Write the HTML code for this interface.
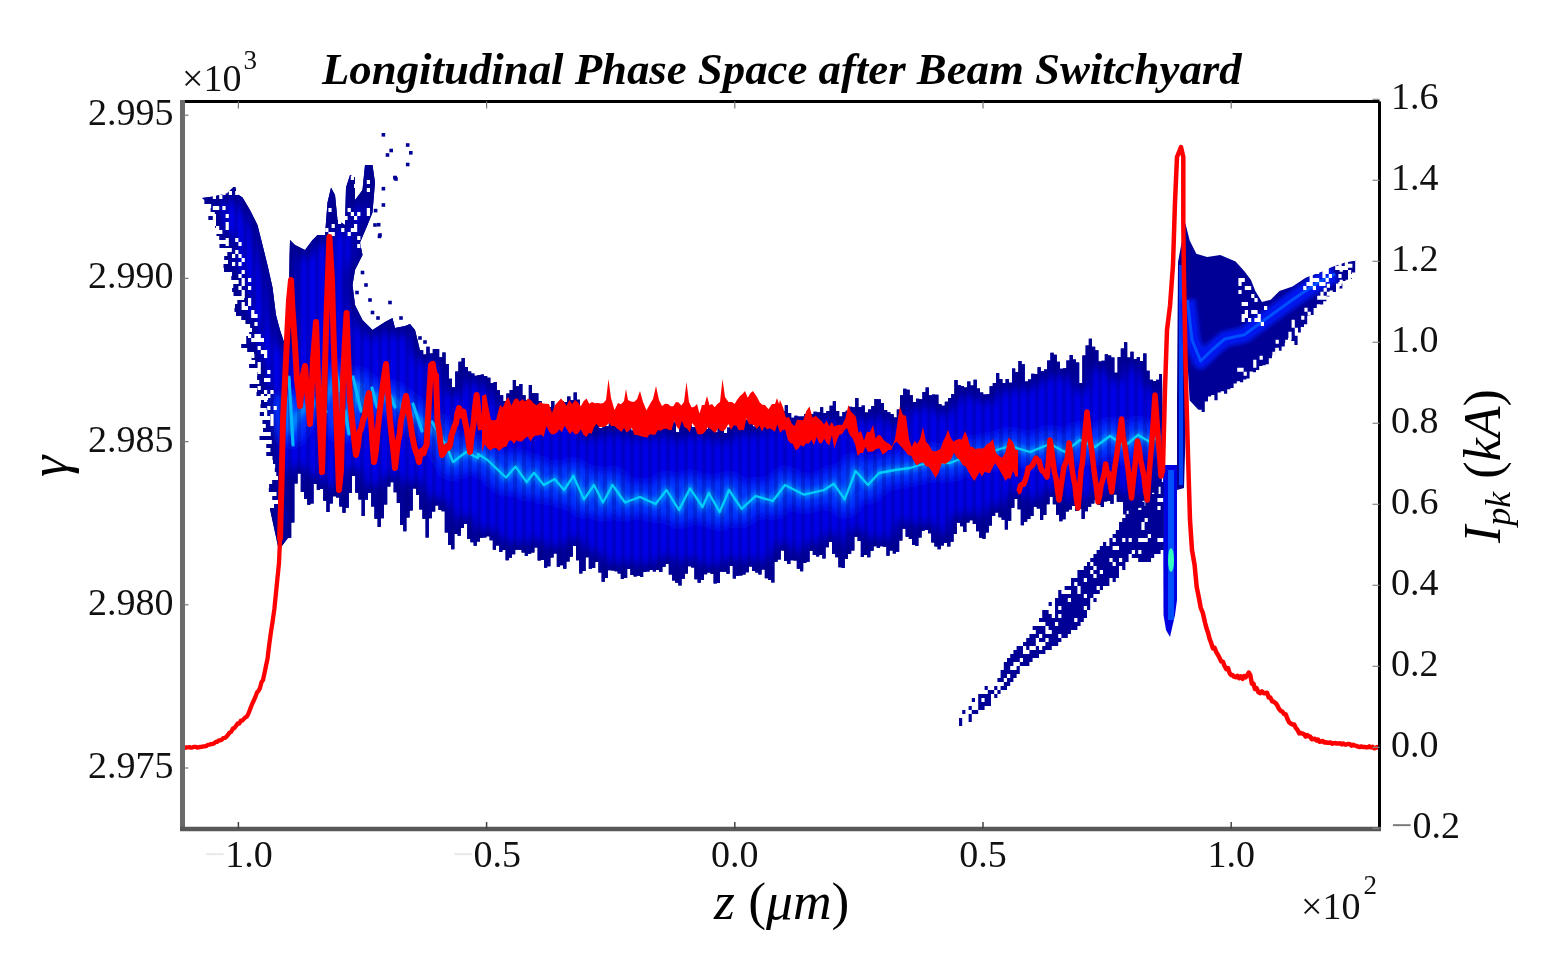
<!DOCTYPE html>
<html><head><meta charset="utf-8"><title>Longitudinal Phase Space after Beam Switchyard</title>
<style>html,body{margin:0;padding:0;background:#fff;width:1544px;height:960px;overflow:hidden}svg{display:block}</style>
</head><body>
<svg width="1544" height="960" viewBox="0 0 1544 960">
<rect width="1544" height="960" fill="#fff"/>
<defs><filter id="bl" filterUnits="userSpaceOnUse" x="0" y="0" width="1544" height="960"><feGaussianBlur stdDeviation="0.7"/></filter><filter id="bl3" filterUnits="userSpaceOnUse" x="0" y="0" width="1544" height="960"><feGaussianBlur stdDeviation="5"/></filter><filter id="bl2" filterUnits="userSpaceOnUse" x="0" y="0" width="1544" height="960"><feGaussianBlur stdDeviation="2"/></filter><pattern id="stp" patternUnits="userSpaceOnUse" width="9" height="20"><rect x="0" y="0" width="4" height="20" fill="#00007a" fill-opacity="0.28"/></pattern><clipPath id="cm"><polygon points="202.0,198.0 213.0,196.6 227.0,193.4 235.0,185.6 236.6,193.4 242.5,197.5 250.0,210.0 257.5,225.0 262.5,245.0 267.5,265.0 272.5,287.5 276.0,315.0 280.0,330.0 284.0,342.0 289.0,340.0 289.0,300.0 289.5,260.0 290.0,240.0 295.0,245.0 305.0,250.0 312.5,240.0 317.5,235.0 325.0,235.0 327.5,202.5 331.0,187.5 335.0,195.0 337.5,220.0 345.0,225.0 346.0,187.5 350.0,175.0 355.0,177.5 355.0,200.0 362.5,190.0 365.0,165.0 372.5,165.0 375.0,182.5 372.5,212.5 367.5,225.0 360.0,242.5 362.5,255.0 355.0,270.0 352.5,285.0 355.0,305.0 362.5,320.0 372.5,330.0 385.0,322.0 392.5,318.0 395.0,328.0 405.0,326.0 410.0,324.0 415.0,330.0 420.0,350.3 423.2,350.3 423.2,354.4 426.4,354.4 426.4,346.7 429.6,346.7 429.6,353.4 432.8,353.4 432.8,348.9 436.0,348.9 436.0,349.1 439.2,349.1 439.2,357.2 442.4,357.2 442.4,352.5 445.6,352.5 445.6,363.9 448.8,363.9 448.8,378.7 452.0,378.7 452.0,387.3 455.2,387.3 455.2,371.4 458.4,371.4 458.4,361.8 461.6,361.8 461.6,357.9 464.8,357.9 464.8,366.9 468.0,366.9 468.0,371.6 471.2,371.6 471.2,373.4 474.4,373.4 474.4,375.7 477.6,375.7 477.6,374.9 480.8,374.9 480.8,374.5 484.0,374.5 484.0,376.0 487.2,376.0 487.2,377.7 490.4,377.7 490.4,382.9 493.6,382.9 493.6,381.9 496.8,381.9 496.8,390.2 500.0,390.2 500.0,395.2 503.2,395.2 503.2,400.9 506.4,400.9 506.4,393.6 509.6,393.6 509.6,390.0 512.8,390.0 512.8,380.1 516.0,380.1 516.0,386.3 519.2,386.3 519.2,383.9 522.4,383.9 522.4,395.3 525.6,395.3 525.6,400.4 528.8,400.4 528.8,385.1 532.0,385.1 532.0,393.2 535.2,393.2 535.2,393.3 538.4,393.3 538.4,401.1 541.6,401.1 541.6,407.9 544.8,407.9 544.8,406.7 548.0,406.7 548.0,407.0 551.2,407.0 551.2,401.1 554.4,401.1 554.4,408.5 557.6,408.5 557.6,405.7 560.8,405.7 560.8,401.5 564.0,401.5 564.0,402.0 567.2,402.0 567.2,396.6 570.4,396.6 570.4,400.3 573.6,400.3 573.6,392.4 576.8,392.4 576.8,399.7 580.0,399.7 580.0,417.0 583.2,417.0 583.2,415.0 586.4,415.0 586.4,430.6 589.6,430.6 589.6,415.1 592.8,415.1 592.8,422.1 596.0,422.1 596.0,420.9 599.2,420.9 599.2,428.1 602.4,428.1 602.4,415.2 605.6,415.2 605.6,426.2 608.8,426.2 608.8,420.2 612.0,420.2 612.0,422.6 615.2,422.6 615.2,421.1 618.4,421.1 618.4,426.0 621.6,426.0 621.6,420.0 624.8,420.0 624.8,423.7 628.0,423.7 628.0,425.2 631.2,425.2 631.2,430.4 634.4,430.4 634.4,415.6 637.6,415.6 637.6,429.3 640.8,429.3 640.8,427.3 644.0,427.3 644.0,422.3 647.2,422.3 647.2,425.1 650.4,425.1 650.4,422.4 653.6,422.4 653.6,429.8 656.8,429.8 656.8,424.9 660.0,424.9 660.0,423.5 663.2,423.5 663.2,423.6 666.4,423.6 666.4,423.9 669.6,423.9 669.6,424.1 672.8,424.1 672.8,421.8 676.0,421.8 676.0,432.2 679.2,432.2 679.2,418.5 682.4,418.5 682.4,412.7 685.6,412.7 685.6,425.0 688.8,425.0 688.8,425.1 692.0,425.1 692.0,427.0 695.2,427.0 695.2,425.1 698.4,425.1 698.4,425.5 701.6,425.5 701.6,427.0 704.8,427.0 704.8,429.1 708.0,429.1 708.0,424.0 711.2,424.0 711.2,424.2 714.4,424.2 714.4,432.2 717.6,432.2 717.6,427.1 720.8,427.1 720.8,421.7 724.0,421.7 724.0,433.1 727.2,433.1 727.2,427.6 730.4,427.6 730.4,422.7 733.6,422.7 733.6,420.5 736.8,420.5 736.8,425.5 740.0,425.5 740.0,421.4 743.2,421.4 743.2,420.5 746.4,420.5 746.4,419.5 749.6,419.5 749.6,421.9 752.8,421.9 752.8,426.6 756.0,426.6 756.0,420.2 759.2,420.2 759.2,415.7 762.4,415.7 762.4,422.1 765.6,422.1 765.6,419.1 768.8,419.1 768.8,420.7 772.0,420.7 772.0,420.3 775.2,420.3 775.2,413.8 778.4,413.8 778.4,412.2 781.6,412.2 781.6,410.9 784.8,410.9 784.8,405.3 788.0,405.3 788.0,413.1 791.2,413.1 791.2,417.8 794.4,417.8 794.4,415.8 797.6,415.8 797.6,416.6 800.8,416.6 800.8,416.6 804.0,416.6 804.0,414.0 807.2,414.0 807.2,413.2 810.4,413.2 810.4,413.9 813.6,413.9 813.6,411.7 816.8,411.7 816.8,412.3 820.0,412.3 820.0,407.3 823.2,407.3 823.2,413.1 826.4,413.1 826.4,411.0 829.6,411.0 829.6,405.8 832.8,405.8 832.8,401.3 836.0,401.3 836.0,411.0 839.2,411.0 839.2,416.6 842.4,416.6 842.4,411.9 845.6,411.9 845.6,410.7 848.8,410.7 848.8,406.7 852.0,406.7 852.0,407.3 855.2,407.3 855.2,398.0 858.4,398.0 858.4,407.1 861.6,407.1 861.6,405.4 864.8,405.4 864.8,412.4 868.0,412.4 868.0,409.4 871.2,409.4 871.2,406.0 874.4,406.0 874.4,399.0 877.6,399.0 877.6,399.2 880.8,399.2 880.8,402.9 884.0,402.9 884.0,409.9 887.2,409.9 887.2,412.2 890.4,412.2 890.4,414.1 893.6,414.1 893.6,417.6 896.8,417.6 896.8,409.4 900.0,409.4 900.0,395.2 903.2,395.2 903.2,388.8 906.4,388.8 906.4,389.8 909.6,389.8 909.6,395.3 912.8,395.3 912.8,402.0 916.0,402.0 916.0,398.7 919.2,398.7 919.2,399.2 922.4,399.2 922.4,392.1 925.6,392.1 925.6,387.4 928.8,387.4 928.8,395.2 932.0,395.2 932.0,394.6 935.2,394.6 935.2,394.8 938.4,394.8 938.4,404.3 941.6,404.3 941.6,405.8 944.8,405.8 944.8,401.8 948.0,401.8 948.0,398.1 951.2,398.1 951.2,394.0 954.4,394.0 954.4,380.0 957.6,380.0 957.6,385.0 960.8,385.0 960.8,386.1 964.0,386.1 964.0,387.4 967.2,387.4 967.2,381.5 970.4,381.5 970.4,385.4 973.6,385.4 973.6,379.7 976.8,379.7 976.8,388.5 980.0,388.5 980.0,392.5 983.2,392.5 983.2,394.6 986.4,394.6 986.4,394.3 989.6,394.3 989.6,386.2 992.8,386.2 992.8,383.1 996.0,383.1 996.0,373.0 999.2,373.0 999.2,379.0 1002.4,379.0 1002.4,383.0 1005.6,383.0 1005.6,379.0 1008.8,379.0 1008.8,382.8 1012.0,382.8 1012.0,368.6 1015.2,368.6 1015.2,372.1 1018.4,372.1 1018.4,360.9 1021.6,360.9 1021.6,364.3 1024.8,364.3 1024.8,381.4 1028.0,381.4 1028.0,379.4 1031.2,379.4 1031.2,373.8 1034.4,373.8 1034.4,374.1 1037.6,374.1 1037.6,367.2 1040.8,367.2 1040.8,371.2 1044.0,371.2 1044.0,369.4 1047.2,369.4 1047.2,360.6 1050.4,360.6 1050.4,352.8 1053.6,352.8 1053.6,354.8 1056.8,354.8 1056.8,361.7 1060.0,361.7 1060.0,368.8 1063.2,368.8 1063.2,368.3 1066.4,368.3 1066.4,360.4 1069.6,360.4 1069.6,355.0 1072.8,355.0 1072.8,359.4 1076.0,359.4 1076.0,362.6 1079.2,362.6 1079.2,382.9 1082.4,382.9 1082.4,355.4 1085.6,355.4 1085.6,345.6 1088.8,345.6 1088.8,338.7 1092.0,338.7 1092.0,346.8 1095.2,346.8 1095.2,350.3 1098.4,350.3 1098.4,361.4 1101.6,361.4 1101.6,360.8 1104.8,360.8 1104.8,354.2 1108.0,354.2 1108.0,355.4 1111.2,355.4 1111.2,357.6 1114.4,357.6 1114.4,372.8 1117.6,372.8 1117.6,357.1 1120.8,357.1 1120.8,348.6 1124.0,348.6 1124.0,342.2 1127.2,342.2 1127.2,357.6 1130.4,357.6 1130.4,351.7 1133.6,351.7 1133.6,359.1 1136.8,359.1 1136.8,357.3 1140.0,357.3 1140.0,361.1 1143.2,361.1 1143.2,353.4 1146.4,353.4 1146.4,370.7 1149.6,370.7 1149.6,379.7 1152.8,379.7 1152.8,380.9 1156.0,380.9 1156.0,379.8 1159.2,379.8 1159.2,374.1 1162.0,374.1 1163.0,470.0 1162.0,474.7 1161.6,474.7 1161.6,486.5 1158.4,486.5 1158.4,493.7 1155.2,493.7 1155.2,492.5 1152.0,492.5 1152.0,506.2 1148.8,506.2 1148.8,506.4 1145.6,506.4 1145.6,500.4 1142.4,500.4 1142.4,507.5 1139.2,507.5 1139.2,508.0 1136.0,508.0 1136.0,508.9 1132.8,508.9 1132.8,509.8 1129.6,509.8 1129.6,510.6 1126.4,510.6 1126.4,514.2 1123.2,514.2 1123.2,501.9 1120.0,501.9 1120.0,501.7 1116.8,501.7 1116.8,494.6 1113.6,494.6 1113.6,503.8 1110.4,503.8 1110.4,500.9 1107.2,500.9 1107.2,501.5 1104.0,501.5 1104.0,507.1 1100.8,507.1 1100.8,505.0 1097.6,505.0 1097.6,500.1 1094.4,500.1 1094.4,503.4 1091.2,503.4 1091.2,506.7 1088.0,506.7 1088.0,511.2 1084.8,511.2 1084.8,519.0 1081.6,519.0 1081.6,508.7 1078.4,508.7 1078.4,511.0 1075.2,511.0 1075.2,506.0 1072.0,506.0 1072.0,509.6 1068.8,509.6 1068.8,511.5 1065.6,511.5 1065.6,519.3 1062.4,519.3 1062.4,521.3 1059.2,521.3 1059.2,514.8 1056.0,514.8 1056.0,504.2 1052.8,504.2 1052.8,496.8 1049.6,496.8 1049.6,504.2 1046.4,504.2 1046.4,515.1 1043.2,515.1 1043.2,519.9 1040.0,519.9 1040.0,508.6 1036.8,508.6 1036.8,506.8 1033.6,506.8 1033.6,516.1 1030.4,516.1 1030.4,519.0 1027.2,519.0 1027.2,521.7 1024.0,521.7 1024.0,525.3 1020.8,525.3 1020.8,509.3 1017.6,509.3 1017.6,499.0 1014.4,499.0 1014.4,507.7 1011.2,507.7 1011.2,520.8 1008.0,520.8 1008.0,529.6 1004.8,529.6 1004.8,519.7 1001.6,519.7 1001.6,517.2 998.4,517.2 998.4,512.6 995.2,512.6 995.2,516.0 992.0,516.0 992.0,525.6 988.8,525.6 988.8,532.6 985.6,532.6 985.6,538.7 982.4,538.7 982.4,537.8 979.2,537.8 979.2,531.2 976.0,531.2 976.0,524.1 972.8,524.1 972.8,520.2 969.6,520.2 969.6,522.6 966.4,522.6 966.4,532.0 963.2,532.0 963.2,526.3 960.0,526.3 960.0,522.7 956.8,522.7 956.8,534.1 953.6,534.1 953.6,541.8 950.4,541.8 950.4,546.6 947.2,546.6 947.2,543.0 944.0,543.0 944.0,545.6 940.8,545.6 940.8,549.2 937.6,549.2 937.6,546.6 934.4,546.6 934.4,542.6 931.2,542.6 931.2,533.2 928.0,533.2 928.0,530.0 924.8,530.0 924.8,530.7 921.6,530.7 921.6,537.4 918.4,537.4 918.4,545.9 915.2,545.9 915.2,544.9 912.0,544.9 912.0,539.0 908.8,539.0 908.8,536.7 905.6,536.7 905.6,528.8 902.4,528.8 902.4,540.5 899.2,540.5 899.2,551.8 896.0,551.8 896.0,553.5 892.8,553.5 892.8,550.4 889.6,550.4 889.6,555.8 886.4,555.8 886.4,546.8 883.2,546.8 883.2,546.2 880.0,546.2 880.0,548.1 876.8,548.1 876.8,546.2 873.6,546.2 873.6,550.8 870.4,550.8 870.4,557.2 867.2,557.2 867.2,555.1 864.0,555.1 864.0,556.9 860.8,556.9 860.8,541.0 857.6,541.0 857.6,536.8 854.4,536.8 854.4,550.5 851.2,550.5 851.2,553.9 848.0,553.9 848.0,559.1 844.8,559.1 844.8,568.0 841.6,568.0 841.6,567.3 838.4,567.3 838.4,557.3 835.2,557.3 835.2,554.0 832.0,554.0 832.0,541.9 828.8,541.9 828.8,547.3 825.6,547.3 825.6,558.4 822.4,558.4 822.4,555.0 819.2,555.0 819.2,556.5 816.0,556.5 816.0,555.1 812.8,555.1 812.8,550.7 809.6,550.7 809.6,561.8 806.4,561.8 806.4,563.1 803.2,563.1 803.2,571.3 800.0,571.3 800.0,568.8 796.8,568.8 796.8,560.6 793.6,560.6 793.6,560.2 790.4,560.2 790.4,564.0 787.2,564.0 787.2,560.9 784.0,560.9 784.0,550.5 780.8,550.5 780.8,559.5 777.6,559.5 777.6,561.8 774.4,561.8 774.4,582.5 771.2,582.5 771.2,580.1 768.0,580.1 768.0,578.3 764.8,578.3 764.8,569.6 761.6,569.6 761.6,574.6 758.4,574.6 758.4,572.6 755.2,572.6 755.2,570.9 752.0,570.9 752.0,566.5 748.8,566.5 748.8,572.3 745.6,572.3 745.6,574.4 742.4,574.4 742.4,575.6 739.2,575.6 739.2,575.8 736.0,575.8 736.0,578.5 732.8,578.5 732.8,565.9 729.6,565.9 729.6,573.8 726.4,573.8 726.4,571.8 723.2,571.8 723.2,571.7 720.0,571.7 720.0,583.1 716.8,583.1 716.8,583.6 713.6,583.6 713.6,573.7 710.4,573.7 710.4,572.5 707.2,572.5 707.2,574.2 704.0,574.2 704.0,580.0 700.8,580.0 700.8,582.8 697.6,582.8 697.6,579.2 694.4,579.2 694.4,567.5 691.2,567.5 691.2,566.2 688.0,566.2 688.0,573.6 684.8,573.6 684.8,578.7 681.6,578.7 681.6,585.6 678.4,585.6 678.4,582.7 675.2,582.7 675.2,580.6 672.0,580.6 672.0,574.5 668.8,574.5 668.8,564.1 665.6,564.1 665.6,566.8 662.4,566.8 662.4,571.9 659.2,571.9 659.2,569.9 656.0,569.9 656.0,571.5 652.8,571.5 652.8,569.9 649.6,569.9 649.6,571.4 646.4,571.4 646.4,571.9 643.2,571.9 643.2,577.0 640.0,577.0 640.0,575.7 636.8,575.7 636.8,576.4 633.6,576.4 633.6,574.9 630.4,574.9 630.4,569.1 627.2,569.1 627.2,578.0 624.0,578.0 624.0,578.9 620.8,578.9 620.8,573.5 617.6,573.5 617.6,571.3 614.4,571.3 614.4,570.4 611.2,570.4 611.2,570.2 608.0,570.2 608.0,578.1 604.8,578.1 604.8,581.8 601.6,581.8 601.6,572.4 598.4,572.4 598.4,561.9 595.2,561.9 595.2,568.1 592.0,568.1 592.0,568.8 588.8,568.8 588.8,557.3 585.6,557.3 585.6,570.9 582.4,570.9 582.4,573.5 579.2,573.5 579.2,560.3 576.0,560.3 576.0,546.0 572.8,546.0 572.8,556.7 569.6,556.7 569.6,561.5 566.4,561.5 566.4,568.8 563.2,568.8 563.2,565.3 560.0,565.3 560.0,566.7 556.8,566.7 556.8,553.4 553.6,553.4 553.6,557.4 550.4,557.4 550.4,566.3 547.2,566.3 547.2,567.7 544.0,567.7 544.0,559.9 540.8,559.9 540.8,560.6 537.6,560.6 537.6,547.5 534.4,547.5 534.4,552.5 531.2,552.5 531.2,553.7 528.0,553.7 528.0,556.1 524.8,556.1 524.8,552.4 521.6,552.4 521.6,549.7 518.4,549.7 518.4,549.7 515.2,549.7 515.2,554.2 512.0,554.2 512.0,557.7 508.8,557.7 508.8,560.3 505.6,560.3 505.6,550.1 502.4,550.1 502.4,552.1 499.2,552.1 499.2,545.5 496.0,545.5 496.0,549.8 492.8,549.8 492.8,540.2 489.6,540.2 489.6,536.3 486.4,536.3 486.4,537.4 483.2,537.4 483.2,537.8 480.0,537.8 480.0,541.4 476.8,541.4 476.8,545.8 473.6,545.8 473.6,542.2 470.4,542.2 470.4,539.1 467.2,539.1 467.2,524.1 464.0,524.1 464.0,527.9 460.8,527.9 460.8,535.7 457.6,535.7 457.6,534.1 454.4,534.1 454.4,549.2 451.2,549.2 451.2,545.1 448.0,545.1 448.0,532.6 444.8,532.6 444.8,511.2 441.6,511.2 441.6,509.9 438.4,509.9 438.4,505.5 435.2,505.5 435.2,511.4 432.0,511.4 432.0,518.3 428.8,518.3 428.8,537.5 425.6,537.5 425.6,518.7 422.4,518.7 422.4,509.6 419.2,509.6 419.2,495.1 416.0,495.1 416.0,488.4 412.8,488.4 412.8,510.5 409.6,510.5 409.6,517.6 406.4,517.6 406.4,531.3 403.2,531.3 403.2,524.9 400.0,524.9 400.0,502.9 396.8,502.9 396.8,492.3 393.6,492.3 393.6,482.2 390.4,482.2 390.4,486.4 387.2,486.4 387.2,504.4 384.0,504.4 384.0,518.2 380.8,518.2 380.8,527.0 377.6,527.0 377.6,518.8 374.4,518.8 374.4,506.4 371.2,506.4 371.2,492.9 368.0,492.9 368.0,499.8 364.8,499.8 364.8,516.0 361.6,516.0 361.6,499.4 358.4,499.4 358.4,492.8 355.2,492.8 355.2,476.0 352.0,476.0 352.0,493.1 348.8,493.1 348.8,507.8 345.6,507.8 345.6,512.7 342.4,512.7 342.4,506.6 339.2,506.6 339.2,497.5 336.0,497.5 336.0,496.3 332.8,496.3 332.8,503.4 329.6,503.4 329.6,511.9 326.4,511.9 326.4,500.8 323.2,500.8 323.2,488.9 320.0,488.9 320.0,490.1 316.8,490.1 316.8,484.1 313.6,484.1 313.6,503.5 310.4,503.5 310.4,504.8 307.2,504.8 307.2,499.0 304.0,499.0 304.0,492.1 300.8,492.1 300.8,473.6 297.6,473.6 297.6,483.6 294.4,483.6 294.4,522.6 291.2,522.6 291.2,537.9 288.0,537.9 278.8,550.0 270.0,509.0 270.0,508.0 274.2,508.0 274.2,504.0 278.2,504.0 278.2,500.0 272.5,500.0 272.5,496.0 276.7,496.0 276.7,492.0 268.9,492.0 268.9,488.0 269.3,488.0 269.3,484.0 272.4,484.0 272.4,480.0 278.0,480.0 278.0,476.0 276.5,476.0 276.5,472.0 274.9,472.0 274.9,468.0 275.4,468.0 275.4,464.0 273.1,464.0 273.1,460.0 272.7,460.0 272.7,456.0 266.5,456.0 266.5,452.0 270.7,452.0 270.7,448.0 266.5,448.0 266.5,444.0 271.9,444.0 271.9,440.0 259.7,440.0 259.7,436.0 270.9,436.0 270.9,432.0 263.2,432.0 263.2,428.0 265.9,428.0 265.9,424.0 262.7,424.0 262.7,420.0 270.5,420.0 270.5,416.0 259.9,416.0 259.9,412.0 266.8,412.0 266.8,408.0 260.7,408.0 260.7,404.0 261.2,404.0 261.2,400.0 268.3,400.0 268.3,396.0 256.7,396.0 256.7,392.0 257.3,392.0 257.3,388.0 249.8,388.0 249.8,384.0 259.5,384.0 259.5,380.0 257.3,380.0 257.3,376.0 257.5,376.0 257.5,372.0 259.1,372.0 259.1,368.0 249.3,368.0 249.3,364.0 255.4,364.0 255.4,360.0 251.7,360.0 251.7,356.0 254.0,356.0 254.0,352.0 247.4,352.0 247.4,348.0 241.4,348.0 241.4,344.0 246.5,344.0 246.5,340.0 246.5,340.0 246.5,336.0 249.4,336.0 249.4,332.0 252.1,332.0 252.1,328.0 250.3,328.0 250.3,324.0 245.7,324.0 245.7,320.0 241.5,320.0 241.5,316.0 236.0,316.0 236.0,312.0 234.7,312.0 234.7,308.0 235.1,308.0 235.1,304.0 237.6,304.0 237.6,300.0 244.4,300.0 244.4,296.0 233.7,296.0 233.7,292.0 232.3,292.0 232.3,288.0 233.5,288.0 233.5,284.0 238.8,284.0 238.8,280.0 231.5,280.0 231.5,276.0 232.1,276.0 232.1,272.0 224.1,272.0 224.1,268.0 223.7,268.0 223.7,264.0 228.2,264.0 228.2,260.0 224.4,260.0 224.4,256.0 227.6,256.0 227.6,252.0 231.9,252.0 231.9,248.0 219.7,248.0 219.7,244.0 227.3,244.0 227.3,240.0 219.5,240.0 219.5,236.0 216.7,236.0 216.7,232.0 217.7,232.0 217.7,228.0 215.3,228.0 215.3,224.0 213.2,224.0 213.2,220.0 208.6,220.0 208.6,216.0 214.9,216.0 214.9,212.0 210.8,212.0 210.8,208.0 211.4,208.0 211.4,204.0 204.6,204.0 204.6,200.0"/></clipPath><clipPath id="cw"><polygon points="1177.0,470.0 1177.0,400.0 1178.0,262.0 1185.3,223.0 1189.7,240.6 1196.3,253.8 1207.2,257.0 1220.3,254.9 1235.6,261.4 1244.4,271.3 1251.0,280.0 1255.3,291.0 1262.0,302.0 1270.7,299.7 1279.4,291.0 1292.5,286.6 1305.7,277.8 1323.2,271.3 1332.0,267.0 1345.0,262.5 1356.0,260.6 1355.2,260.6 1355.2,272.4 1352.0,272.4 1352.0,279.1 1348.8,279.1 1348.8,279.7 1345.6,279.7 1345.6,281.1 1342.4,281.1 1342.4,288.4 1339.2,288.4 1339.2,283.8 1336.0,283.8 1336.0,292.0 1332.8,292.0 1332.8,290.6 1329.6,290.6 1329.6,296.6 1326.4,296.6 1326.4,301.2 1323.2,301.2 1323.2,304.4 1320.0,304.4 1320.0,304.2 1316.8,304.2 1316.8,308.0 1313.6,308.0 1313.6,314.9 1310.4,314.9 1310.4,316.1 1307.2,316.1 1307.2,324.3 1304.0,324.3 1304.0,327.0 1300.8,327.0 1300.8,332.4 1297.6,332.4 1297.6,344.9 1294.4,344.9 1294.4,340.9 1291.2,340.9 1291.2,338.1 1288.0,338.1 1288.0,342.9 1284.8,342.9 1284.8,346.4 1281.6,346.4 1281.6,350.8 1278.4,350.8 1278.4,348.3 1275.2,348.3 1275.2,355.2 1272.0,355.2 1272.0,358.3 1268.8,358.3 1268.8,364.3 1265.6,364.3 1265.6,365.2 1262.4,365.2 1262.4,365.9 1259.2,365.9 1259.2,370.1 1256.0,370.1 1256.0,372.2 1252.8,372.2 1252.8,371.5 1249.6,371.5 1249.6,378.6 1246.4,378.6 1246.4,379.6 1243.2,379.6 1243.2,382.3 1240.0,382.3 1240.0,381.3 1236.8,381.3 1236.8,383.5 1233.6,383.5 1233.6,388.0 1230.4,388.0 1230.4,389.3 1227.2,389.3 1227.2,393.8 1224.0,393.8 1224.0,391.3 1220.8,391.3 1220.8,392.4 1217.6,392.4 1217.6,400.2 1214.4,400.2 1214.4,395.1 1211.2,395.1 1211.2,396.5 1208.0,396.5 1208.0,401.5 1204.8,401.5 1204.8,411.9 1201.6,411.9 1201.6,409.7 1198.4,409.7 1189.7,400.4 1187.5,363.0 1186.0,420.0 1184.0,488.0 1177.0,490.0"/></clipPath></defs>
<g filter="url(#bl)">
<polygon points="202.0,198.0 213.0,196.6 227.0,193.4 235.0,185.6 236.6,193.4 242.5,197.5 250.0,210.0 257.5,225.0 262.5,245.0 267.5,265.0 272.5,287.5 276.0,315.0 280.0,330.0 284.0,342.0 289.0,340.0 289.0,300.0 289.5,260.0 290.0,240.0 295.0,245.0 305.0,250.0 312.5,240.0 317.5,235.0 325.0,235.0 327.5,202.5 331.0,187.5 335.0,195.0 337.5,220.0 345.0,225.0 346.0,187.5 350.0,175.0 355.0,177.5 355.0,200.0 362.5,190.0 365.0,165.0 372.5,165.0 375.0,182.5 372.5,212.5 367.5,225.0 360.0,242.5 362.5,255.0 355.0,270.0 352.5,285.0 355.0,305.0 362.5,320.0 372.5,330.0 385.0,322.0 392.5,318.0 395.0,328.0 405.0,326.0 410.0,324.0 415.0,330.0 420.0,350.3 423.2,350.3 423.2,354.4 426.4,354.4 426.4,346.7 429.6,346.7 429.6,353.4 432.8,353.4 432.8,348.9 436.0,348.9 436.0,349.1 439.2,349.1 439.2,357.2 442.4,357.2 442.4,352.5 445.6,352.5 445.6,363.9 448.8,363.9 448.8,378.7 452.0,378.7 452.0,387.3 455.2,387.3 455.2,371.4 458.4,371.4 458.4,361.8 461.6,361.8 461.6,357.9 464.8,357.9 464.8,366.9 468.0,366.9 468.0,371.6 471.2,371.6 471.2,373.4 474.4,373.4 474.4,375.7 477.6,375.7 477.6,374.9 480.8,374.9 480.8,374.5 484.0,374.5 484.0,376.0 487.2,376.0 487.2,377.7 490.4,377.7 490.4,382.9 493.6,382.9 493.6,381.9 496.8,381.9 496.8,390.2 500.0,390.2 500.0,395.2 503.2,395.2 503.2,400.9 506.4,400.9 506.4,393.6 509.6,393.6 509.6,390.0 512.8,390.0 512.8,380.1 516.0,380.1 516.0,386.3 519.2,386.3 519.2,383.9 522.4,383.9 522.4,395.3 525.6,395.3 525.6,400.4 528.8,400.4 528.8,385.1 532.0,385.1 532.0,393.2 535.2,393.2 535.2,393.3 538.4,393.3 538.4,401.1 541.6,401.1 541.6,407.9 544.8,407.9 544.8,406.7 548.0,406.7 548.0,407.0 551.2,407.0 551.2,401.1 554.4,401.1 554.4,408.5 557.6,408.5 557.6,405.7 560.8,405.7 560.8,401.5 564.0,401.5 564.0,402.0 567.2,402.0 567.2,396.6 570.4,396.6 570.4,400.3 573.6,400.3 573.6,392.4 576.8,392.4 576.8,399.7 580.0,399.7 580.0,417.0 583.2,417.0 583.2,415.0 586.4,415.0 586.4,430.6 589.6,430.6 589.6,415.1 592.8,415.1 592.8,422.1 596.0,422.1 596.0,420.9 599.2,420.9 599.2,428.1 602.4,428.1 602.4,415.2 605.6,415.2 605.6,426.2 608.8,426.2 608.8,420.2 612.0,420.2 612.0,422.6 615.2,422.6 615.2,421.1 618.4,421.1 618.4,426.0 621.6,426.0 621.6,420.0 624.8,420.0 624.8,423.7 628.0,423.7 628.0,425.2 631.2,425.2 631.2,430.4 634.4,430.4 634.4,415.6 637.6,415.6 637.6,429.3 640.8,429.3 640.8,427.3 644.0,427.3 644.0,422.3 647.2,422.3 647.2,425.1 650.4,425.1 650.4,422.4 653.6,422.4 653.6,429.8 656.8,429.8 656.8,424.9 660.0,424.9 660.0,423.5 663.2,423.5 663.2,423.6 666.4,423.6 666.4,423.9 669.6,423.9 669.6,424.1 672.8,424.1 672.8,421.8 676.0,421.8 676.0,432.2 679.2,432.2 679.2,418.5 682.4,418.5 682.4,412.7 685.6,412.7 685.6,425.0 688.8,425.0 688.8,425.1 692.0,425.1 692.0,427.0 695.2,427.0 695.2,425.1 698.4,425.1 698.4,425.5 701.6,425.5 701.6,427.0 704.8,427.0 704.8,429.1 708.0,429.1 708.0,424.0 711.2,424.0 711.2,424.2 714.4,424.2 714.4,432.2 717.6,432.2 717.6,427.1 720.8,427.1 720.8,421.7 724.0,421.7 724.0,433.1 727.2,433.1 727.2,427.6 730.4,427.6 730.4,422.7 733.6,422.7 733.6,420.5 736.8,420.5 736.8,425.5 740.0,425.5 740.0,421.4 743.2,421.4 743.2,420.5 746.4,420.5 746.4,419.5 749.6,419.5 749.6,421.9 752.8,421.9 752.8,426.6 756.0,426.6 756.0,420.2 759.2,420.2 759.2,415.7 762.4,415.7 762.4,422.1 765.6,422.1 765.6,419.1 768.8,419.1 768.8,420.7 772.0,420.7 772.0,420.3 775.2,420.3 775.2,413.8 778.4,413.8 778.4,412.2 781.6,412.2 781.6,410.9 784.8,410.9 784.8,405.3 788.0,405.3 788.0,413.1 791.2,413.1 791.2,417.8 794.4,417.8 794.4,415.8 797.6,415.8 797.6,416.6 800.8,416.6 800.8,416.6 804.0,416.6 804.0,414.0 807.2,414.0 807.2,413.2 810.4,413.2 810.4,413.9 813.6,413.9 813.6,411.7 816.8,411.7 816.8,412.3 820.0,412.3 820.0,407.3 823.2,407.3 823.2,413.1 826.4,413.1 826.4,411.0 829.6,411.0 829.6,405.8 832.8,405.8 832.8,401.3 836.0,401.3 836.0,411.0 839.2,411.0 839.2,416.6 842.4,416.6 842.4,411.9 845.6,411.9 845.6,410.7 848.8,410.7 848.8,406.7 852.0,406.7 852.0,407.3 855.2,407.3 855.2,398.0 858.4,398.0 858.4,407.1 861.6,407.1 861.6,405.4 864.8,405.4 864.8,412.4 868.0,412.4 868.0,409.4 871.2,409.4 871.2,406.0 874.4,406.0 874.4,399.0 877.6,399.0 877.6,399.2 880.8,399.2 880.8,402.9 884.0,402.9 884.0,409.9 887.2,409.9 887.2,412.2 890.4,412.2 890.4,414.1 893.6,414.1 893.6,417.6 896.8,417.6 896.8,409.4 900.0,409.4 900.0,395.2 903.2,395.2 903.2,388.8 906.4,388.8 906.4,389.8 909.6,389.8 909.6,395.3 912.8,395.3 912.8,402.0 916.0,402.0 916.0,398.7 919.2,398.7 919.2,399.2 922.4,399.2 922.4,392.1 925.6,392.1 925.6,387.4 928.8,387.4 928.8,395.2 932.0,395.2 932.0,394.6 935.2,394.6 935.2,394.8 938.4,394.8 938.4,404.3 941.6,404.3 941.6,405.8 944.8,405.8 944.8,401.8 948.0,401.8 948.0,398.1 951.2,398.1 951.2,394.0 954.4,394.0 954.4,380.0 957.6,380.0 957.6,385.0 960.8,385.0 960.8,386.1 964.0,386.1 964.0,387.4 967.2,387.4 967.2,381.5 970.4,381.5 970.4,385.4 973.6,385.4 973.6,379.7 976.8,379.7 976.8,388.5 980.0,388.5 980.0,392.5 983.2,392.5 983.2,394.6 986.4,394.6 986.4,394.3 989.6,394.3 989.6,386.2 992.8,386.2 992.8,383.1 996.0,383.1 996.0,373.0 999.2,373.0 999.2,379.0 1002.4,379.0 1002.4,383.0 1005.6,383.0 1005.6,379.0 1008.8,379.0 1008.8,382.8 1012.0,382.8 1012.0,368.6 1015.2,368.6 1015.2,372.1 1018.4,372.1 1018.4,360.9 1021.6,360.9 1021.6,364.3 1024.8,364.3 1024.8,381.4 1028.0,381.4 1028.0,379.4 1031.2,379.4 1031.2,373.8 1034.4,373.8 1034.4,374.1 1037.6,374.1 1037.6,367.2 1040.8,367.2 1040.8,371.2 1044.0,371.2 1044.0,369.4 1047.2,369.4 1047.2,360.6 1050.4,360.6 1050.4,352.8 1053.6,352.8 1053.6,354.8 1056.8,354.8 1056.8,361.7 1060.0,361.7 1060.0,368.8 1063.2,368.8 1063.2,368.3 1066.4,368.3 1066.4,360.4 1069.6,360.4 1069.6,355.0 1072.8,355.0 1072.8,359.4 1076.0,359.4 1076.0,362.6 1079.2,362.6 1079.2,382.9 1082.4,382.9 1082.4,355.4 1085.6,355.4 1085.6,345.6 1088.8,345.6 1088.8,338.7 1092.0,338.7 1092.0,346.8 1095.2,346.8 1095.2,350.3 1098.4,350.3 1098.4,361.4 1101.6,361.4 1101.6,360.8 1104.8,360.8 1104.8,354.2 1108.0,354.2 1108.0,355.4 1111.2,355.4 1111.2,357.6 1114.4,357.6 1114.4,372.8 1117.6,372.8 1117.6,357.1 1120.8,357.1 1120.8,348.6 1124.0,348.6 1124.0,342.2 1127.2,342.2 1127.2,357.6 1130.4,357.6 1130.4,351.7 1133.6,351.7 1133.6,359.1 1136.8,359.1 1136.8,357.3 1140.0,357.3 1140.0,361.1 1143.2,361.1 1143.2,353.4 1146.4,353.4 1146.4,370.7 1149.6,370.7 1149.6,379.7 1152.8,379.7 1152.8,380.9 1156.0,380.9 1156.0,379.8 1159.2,379.8 1159.2,374.1 1162.0,374.1 1163.0,470.0 1162.0,474.7 1161.6,474.7 1161.6,486.5 1158.4,486.5 1158.4,493.7 1155.2,493.7 1155.2,492.5 1152.0,492.5 1152.0,506.2 1148.8,506.2 1148.8,506.4 1145.6,506.4 1145.6,500.4 1142.4,500.4 1142.4,507.5 1139.2,507.5 1139.2,508.0 1136.0,508.0 1136.0,508.9 1132.8,508.9 1132.8,509.8 1129.6,509.8 1129.6,510.6 1126.4,510.6 1126.4,514.2 1123.2,514.2 1123.2,501.9 1120.0,501.9 1120.0,501.7 1116.8,501.7 1116.8,494.6 1113.6,494.6 1113.6,503.8 1110.4,503.8 1110.4,500.9 1107.2,500.9 1107.2,501.5 1104.0,501.5 1104.0,507.1 1100.8,507.1 1100.8,505.0 1097.6,505.0 1097.6,500.1 1094.4,500.1 1094.4,503.4 1091.2,503.4 1091.2,506.7 1088.0,506.7 1088.0,511.2 1084.8,511.2 1084.8,519.0 1081.6,519.0 1081.6,508.7 1078.4,508.7 1078.4,511.0 1075.2,511.0 1075.2,506.0 1072.0,506.0 1072.0,509.6 1068.8,509.6 1068.8,511.5 1065.6,511.5 1065.6,519.3 1062.4,519.3 1062.4,521.3 1059.2,521.3 1059.2,514.8 1056.0,514.8 1056.0,504.2 1052.8,504.2 1052.8,496.8 1049.6,496.8 1049.6,504.2 1046.4,504.2 1046.4,515.1 1043.2,515.1 1043.2,519.9 1040.0,519.9 1040.0,508.6 1036.8,508.6 1036.8,506.8 1033.6,506.8 1033.6,516.1 1030.4,516.1 1030.4,519.0 1027.2,519.0 1027.2,521.7 1024.0,521.7 1024.0,525.3 1020.8,525.3 1020.8,509.3 1017.6,509.3 1017.6,499.0 1014.4,499.0 1014.4,507.7 1011.2,507.7 1011.2,520.8 1008.0,520.8 1008.0,529.6 1004.8,529.6 1004.8,519.7 1001.6,519.7 1001.6,517.2 998.4,517.2 998.4,512.6 995.2,512.6 995.2,516.0 992.0,516.0 992.0,525.6 988.8,525.6 988.8,532.6 985.6,532.6 985.6,538.7 982.4,538.7 982.4,537.8 979.2,537.8 979.2,531.2 976.0,531.2 976.0,524.1 972.8,524.1 972.8,520.2 969.6,520.2 969.6,522.6 966.4,522.6 966.4,532.0 963.2,532.0 963.2,526.3 960.0,526.3 960.0,522.7 956.8,522.7 956.8,534.1 953.6,534.1 953.6,541.8 950.4,541.8 950.4,546.6 947.2,546.6 947.2,543.0 944.0,543.0 944.0,545.6 940.8,545.6 940.8,549.2 937.6,549.2 937.6,546.6 934.4,546.6 934.4,542.6 931.2,542.6 931.2,533.2 928.0,533.2 928.0,530.0 924.8,530.0 924.8,530.7 921.6,530.7 921.6,537.4 918.4,537.4 918.4,545.9 915.2,545.9 915.2,544.9 912.0,544.9 912.0,539.0 908.8,539.0 908.8,536.7 905.6,536.7 905.6,528.8 902.4,528.8 902.4,540.5 899.2,540.5 899.2,551.8 896.0,551.8 896.0,553.5 892.8,553.5 892.8,550.4 889.6,550.4 889.6,555.8 886.4,555.8 886.4,546.8 883.2,546.8 883.2,546.2 880.0,546.2 880.0,548.1 876.8,548.1 876.8,546.2 873.6,546.2 873.6,550.8 870.4,550.8 870.4,557.2 867.2,557.2 867.2,555.1 864.0,555.1 864.0,556.9 860.8,556.9 860.8,541.0 857.6,541.0 857.6,536.8 854.4,536.8 854.4,550.5 851.2,550.5 851.2,553.9 848.0,553.9 848.0,559.1 844.8,559.1 844.8,568.0 841.6,568.0 841.6,567.3 838.4,567.3 838.4,557.3 835.2,557.3 835.2,554.0 832.0,554.0 832.0,541.9 828.8,541.9 828.8,547.3 825.6,547.3 825.6,558.4 822.4,558.4 822.4,555.0 819.2,555.0 819.2,556.5 816.0,556.5 816.0,555.1 812.8,555.1 812.8,550.7 809.6,550.7 809.6,561.8 806.4,561.8 806.4,563.1 803.2,563.1 803.2,571.3 800.0,571.3 800.0,568.8 796.8,568.8 796.8,560.6 793.6,560.6 793.6,560.2 790.4,560.2 790.4,564.0 787.2,564.0 787.2,560.9 784.0,560.9 784.0,550.5 780.8,550.5 780.8,559.5 777.6,559.5 777.6,561.8 774.4,561.8 774.4,582.5 771.2,582.5 771.2,580.1 768.0,580.1 768.0,578.3 764.8,578.3 764.8,569.6 761.6,569.6 761.6,574.6 758.4,574.6 758.4,572.6 755.2,572.6 755.2,570.9 752.0,570.9 752.0,566.5 748.8,566.5 748.8,572.3 745.6,572.3 745.6,574.4 742.4,574.4 742.4,575.6 739.2,575.6 739.2,575.8 736.0,575.8 736.0,578.5 732.8,578.5 732.8,565.9 729.6,565.9 729.6,573.8 726.4,573.8 726.4,571.8 723.2,571.8 723.2,571.7 720.0,571.7 720.0,583.1 716.8,583.1 716.8,583.6 713.6,583.6 713.6,573.7 710.4,573.7 710.4,572.5 707.2,572.5 707.2,574.2 704.0,574.2 704.0,580.0 700.8,580.0 700.8,582.8 697.6,582.8 697.6,579.2 694.4,579.2 694.4,567.5 691.2,567.5 691.2,566.2 688.0,566.2 688.0,573.6 684.8,573.6 684.8,578.7 681.6,578.7 681.6,585.6 678.4,585.6 678.4,582.7 675.2,582.7 675.2,580.6 672.0,580.6 672.0,574.5 668.8,574.5 668.8,564.1 665.6,564.1 665.6,566.8 662.4,566.8 662.4,571.9 659.2,571.9 659.2,569.9 656.0,569.9 656.0,571.5 652.8,571.5 652.8,569.9 649.6,569.9 649.6,571.4 646.4,571.4 646.4,571.9 643.2,571.9 643.2,577.0 640.0,577.0 640.0,575.7 636.8,575.7 636.8,576.4 633.6,576.4 633.6,574.9 630.4,574.9 630.4,569.1 627.2,569.1 627.2,578.0 624.0,578.0 624.0,578.9 620.8,578.9 620.8,573.5 617.6,573.5 617.6,571.3 614.4,571.3 614.4,570.4 611.2,570.4 611.2,570.2 608.0,570.2 608.0,578.1 604.8,578.1 604.8,581.8 601.6,581.8 601.6,572.4 598.4,572.4 598.4,561.9 595.2,561.9 595.2,568.1 592.0,568.1 592.0,568.8 588.8,568.8 588.8,557.3 585.6,557.3 585.6,570.9 582.4,570.9 582.4,573.5 579.2,573.5 579.2,560.3 576.0,560.3 576.0,546.0 572.8,546.0 572.8,556.7 569.6,556.7 569.6,561.5 566.4,561.5 566.4,568.8 563.2,568.8 563.2,565.3 560.0,565.3 560.0,566.7 556.8,566.7 556.8,553.4 553.6,553.4 553.6,557.4 550.4,557.4 550.4,566.3 547.2,566.3 547.2,567.7 544.0,567.7 544.0,559.9 540.8,559.9 540.8,560.6 537.6,560.6 537.6,547.5 534.4,547.5 534.4,552.5 531.2,552.5 531.2,553.7 528.0,553.7 528.0,556.1 524.8,556.1 524.8,552.4 521.6,552.4 521.6,549.7 518.4,549.7 518.4,549.7 515.2,549.7 515.2,554.2 512.0,554.2 512.0,557.7 508.8,557.7 508.8,560.3 505.6,560.3 505.6,550.1 502.4,550.1 502.4,552.1 499.2,552.1 499.2,545.5 496.0,545.5 496.0,549.8 492.8,549.8 492.8,540.2 489.6,540.2 489.6,536.3 486.4,536.3 486.4,537.4 483.2,537.4 483.2,537.8 480.0,537.8 480.0,541.4 476.8,541.4 476.8,545.8 473.6,545.8 473.6,542.2 470.4,542.2 470.4,539.1 467.2,539.1 467.2,524.1 464.0,524.1 464.0,527.9 460.8,527.9 460.8,535.7 457.6,535.7 457.6,534.1 454.4,534.1 454.4,549.2 451.2,549.2 451.2,545.1 448.0,545.1 448.0,532.6 444.8,532.6 444.8,511.2 441.6,511.2 441.6,509.9 438.4,509.9 438.4,505.5 435.2,505.5 435.2,511.4 432.0,511.4 432.0,518.3 428.8,518.3 428.8,537.5 425.6,537.5 425.6,518.7 422.4,518.7 422.4,509.6 419.2,509.6 419.2,495.1 416.0,495.1 416.0,488.4 412.8,488.4 412.8,510.5 409.6,510.5 409.6,517.6 406.4,517.6 406.4,531.3 403.2,531.3 403.2,524.9 400.0,524.9 400.0,502.9 396.8,502.9 396.8,492.3 393.6,492.3 393.6,482.2 390.4,482.2 390.4,486.4 387.2,486.4 387.2,504.4 384.0,504.4 384.0,518.2 380.8,518.2 380.8,527.0 377.6,527.0 377.6,518.8 374.4,518.8 374.4,506.4 371.2,506.4 371.2,492.9 368.0,492.9 368.0,499.8 364.8,499.8 364.8,516.0 361.6,516.0 361.6,499.4 358.4,499.4 358.4,492.8 355.2,492.8 355.2,476.0 352.0,476.0 352.0,493.1 348.8,493.1 348.8,507.8 345.6,507.8 345.6,512.7 342.4,512.7 342.4,506.6 339.2,506.6 339.2,497.5 336.0,497.5 336.0,496.3 332.8,496.3 332.8,503.4 329.6,503.4 329.6,511.9 326.4,511.9 326.4,500.8 323.2,500.8 323.2,488.9 320.0,488.9 320.0,490.1 316.8,490.1 316.8,484.1 313.6,484.1 313.6,503.5 310.4,503.5 310.4,504.8 307.2,504.8 307.2,499.0 304.0,499.0 304.0,492.1 300.8,492.1 300.8,473.6 297.6,473.6 297.6,483.6 294.4,483.6 294.4,522.6 291.2,522.6 291.2,537.9 288.0,537.9 278.8,550.0 270.0,509.0 270.0,508.0 274.2,508.0 274.2,504.0 278.2,504.0 278.2,500.0 272.5,500.0 272.5,496.0 276.7,496.0 276.7,492.0 268.9,492.0 268.9,488.0 269.3,488.0 269.3,484.0 272.4,484.0 272.4,480.0 278.0,480.0 278.0,476.0 276.5,476.0 276.5,472.0 274.9,472.0 274.9,468.0 275.4,468.0 275.4,464.0 273.1,464.0 273.1,460.0 272.7,460.0 272.7,456.0 266.5,456.0 266.5,452.0 270.7,452.0 270.7,448.0 266.5,448.0 266.5,444.0 271.9,444.0 271.9,440.0 259.7,440.0 259.7,436.0 270.9,436.0 270.9,432.0 263.2,432.0 263.2,428.0 265.9,428.0 265.9,424.0 262.7,424.0 262.7,420.0 270.5,420.0 270.5,416.0 259.9,416.0 259.9,412.0 266.8,412.0 266.8,408.0 260.7,408.0 260.7,404.0 261.2,404.0 261.2,400.0 268.3,400.0 268.3,396.0 256.7,396.0 256.7,392.0 257.3,392.0 257.3,388.0 249.8,388.0 249.8,384.0 259.5,384.0 259.5,380.0 257.3,380.0 257.3,376.0 257.5,376.0 257.5,372.0 259.1,372.0 259.1,368.0 249.3,368.0 249.3,364.0 255.4,364.0 255.4,360.0 251.7,360.0 251.7,356.0 254.0,356.0 254.0,352.0 247.4,352.0 247.4,348.0 241.4,348.0 241.4,344.0 246.5,344.0 246.5,340.0 246.5,340.0 246.5,336.0 249.4,336.0 249.4,332.0 252.1,332.0 252.1,328.0 250.3,328.0 250.3,324.0 245.7,324.0 245.7,320.0 241.5,320.0 241.5,316.0 236.0,316.0 236.0,312.0 234.7,312.0 234.7,308.0 235.1,308.0 235.1,304.0 237.6,304.0 237.6,300.0 244.4,300.0 244.4,296.0 233.7,296.0 233.7,292.0 232.3,292.0 232.3,288.0 233.5,288.0 233.5,284.0 238.8,284.0 238.8,280.0 231.5,280.0 231.5,276.0 232.1,276.0 232.1,272.0 224.1,272.0 224.1,268.0 223.7,268.0 223.7,264.0 228.2,264.0 228.2,260.0 224.4,260.0 224.4,256.0 227.6,256.0 227.6,252.0 231.9,252.0 231.9,248.0 219.7,248.0 219.7,244.0 227.3,244.0 227.3,240.0 219.5,240.0 219.5,236.0 216.7,236.0 216.7,232.0 217.7,232.0 217.7,228.0 215.3,228.0 215.3,224.0 213.2,224.0 213.2,220.0 208.6,220.0 208.6,216.0 214.9,216.0 214.9,212.0 210.8,212.0 210.8,208.0 211.4,208.0 211.4,204.0 204.6,204.0 204.6,200.0" fill="#000096"/>
<polygon points="1177.0,470.0 1177.0,400.0 1178.0,262.0 1185.3,223.0 1189.7,240.6 1196.3,253.8 1207.2,257.0 1220.3,254.9 1235.6,261.4 1244.4,271.3 1251.0,280.0 1255.3,291.0 1262.0,302.0 1270.7,299.7 1279.4,291.0 1292.5,286.6 1305.7,277.8 1323.2,271.3 1332.0,267.0 1345.0,262.5 1356.0,260.6 1355.2,260.6 1355.2,272.4 1352.0,272.4 1352.0,279.1 1348.8,279.1 1348.8,279.7 1345.6,279.7 1345.6,281.1 1342.4,281.1 1342.4,288.4 1339.2,288.4 1339.2,283.8 1336.0,283.8 1336.0,292.0 1332.8,292.0 1332.8,290.6 1329.6,290.6 1329.6,296.6 1326.4,296.6 1326.4,301.2 1323.2,301.2 1323.2,304.4 1320.0,304.4 1320.0,304.2 1316.8,304.2 1316.8,308.0 1313.6,308.0 1313.6,314.9 1310.4,314.9 1310.4,316.1 1307.2,316.1 1307.2,324.3 1304.0,324.3 1304.0,327.0 1300.8,327.0 1300.8,332.4 1297.6,332.4 1297.6,344.9 1294.4,344.9 1294.4,340.9 1291.2,340.9 1291.2,338.1 1288.0,338.1 1288.0,342.9 1284.8,342.9 1284.8,346.4 1281.6,346.4 1281.6,350.8 1278.4,350.8 1278.4,348.3 1275.2,348.3 1275.2,355.2 1272.0,355.2 1272.0,358.3 1268.8,358.3 1268.8,364.3 1265.6,364.3 1265.6,365.2 1262.4,365.2 1262.4,365.9 1259.2,365.9 1259.2,370.1 1256.0,370.1 1256.0,372.2 1252.8,372.2 1252.8,371.5 1249.6,371.5 1249.6,378.6 1246.4,378.6 1246.4,379.6 1243.2,379.6 1243.2,382.3 1240.0,382.3 1240.0,381.3 1236.8,381.3 1236.8,383.5 1233.6,383.5 1233.6,388.0 1230.4,388.0 1230.4,389.3 1227.2,389.3 1227.2,393.8 1224.0,393.8 1224.0,391.3 1220.8,391.3 1220.8,392.4 1217.6,392.4 1217.6,400.2 1214.4,400.2 1214.4,395.1 1211.2,395.1 1211.2,396.5 1208.0,396.5 1208.0,401.5 1204.8,401.5 1204.8,411.9 1201.6,411.9 1201.6,409.7 1198.4,409.7 1189.7,400.4 1187.5,363.0 1186.0,420.0 1184.0,488.0 1177.0,490.0" fill="#000096"/>
<polygon points="1163.0,465.0 1177.0,465.0 1177.0,600.0 1175.0,615.0 1170.0,637.0 1166.0,630.0 1163.5,615.0" fill="#0000e0"/>
<rect x="1168" y="470" width="6" height="150" fill="#0050ff"/>
<ellipse cx="1171" cy="560" rx="3" ry="12" fill="#30ffc0"/>
<rect x="1179" y="265" width="4" height="220" fill="#0040ff"/>
<path d="M1160.6 482.0h3.2v4.0h-3.2zM1160.6 486.0h3.2v4.0h-3.2zM1154.2 490.0h3.2v4.0h-3.2zM1160.6 490.0h3.2v4.0h-3.2zM1144.6 494.0h3.2v4.0h-3.2zM1147.8 494.0h3.2v4.0h-3.2zM1151.0 494.0h3.2v4.0h-3.2zM1154.2 494.0h3.2v4.0h-3.2zM1157.4 494.0h3.2v4.0h-3.2zM1160.6 494.0h3.2v4.0h-3.2zM1138.2 498.0h3.2v4.0h-3.2zM1144.6 498.0h3.2v4.0h-3.2zM1151.0 498.0h3.2v4.0h-3.2zM1154.2 498.0h3.2v4.0h-3.2zM1135.0 502.0h3.2v4.0h-3.2zM1138.2 502.0h3.2v4.0h-3.2zM1141.4 502.0h3.2v4.0h-3.2zM1147.8 502.0h3.2v4.0h-3.2zM1151.0 502.0h3.2v4.0h-3.2zM1154.2 502.0h3.2v4.0h-3.2zM1157.4 502.0h3.2v4.0h-3.2zM1160.6 502.0h3.2v4.0h-3.2zM1131.8 506.0h3.2v4.0h-3.2zM1135.0 506.0h3.2v4.0h-3.2zM1141.4 506.0h3.2v4.0h-3.2zM1144.6 506.0h3.2v4.0h-3.2zM1147.8 506.0h3.2v4.0h-3.2zM1151.0 506.0h3.2v4.0h-3.2zM1154.2 506.0h3.2v4.0h-3.2zM1160.6 506.0h3.2v4.0h-3.2zM1128.6 510.0h3.2v4.0h-3.2zM1131.8 510.0h3.2v4.0h-3.2zM1135.0 510.0h3.2v4.0h-3.2zM1138.2 510.0h3.2v4.0h-3.2zM1141.4 510.0h3.2v4.0h-3.2zM1144.6 510.0h3.2v4.0h-3.2zM1147.8 510.0h3.2v4.0h-3.2zM1151.0 510.0h3.2v4.0h-3.2zM1154.2 510.0h3.2v4.0h-3.2zM1157.4 510.0h3.2v4.0h-3.2zM1160.6 510.0h3.2v4.0h-3.2zM1125.4 514.0h3.2v4.0h-3.2zM1128.6 514.0h3.2v4.0h-3.2zM1131.8 514.0h3.2v4.0h-3.2zM1135.0 514.0h3.2v4.0h-3.2zM1138.2 514.0h3.2v4.0h-3.2zM1141.4 514.0h3.2v4.0h-3.2zM1144.6 514.0h3.2v4.0h-3.2zM1147.8 514.0h3.2v4.0h-3.2zM1151.0 514.0h3.2v4.0h-3.2zM1154.2 514.0h3.2v4.0h-3.2zM1157.4 514.0h3.2v4.0h-3.2zM1160.6 514.0h3.2v4.0h-3.2zM1122.2 518.0h3.2v4.0h-3.2zM1125.4 518.0h3.2v4.0h-3.2zM1128.6 518.0h3.2v4.0h-3.2zM1131.8 518.0h3.2v4.0h-3.2zM1135.0 518.0h3.2v4.0h-3.2zM1138.2 518.0h3.2v4.0h-3.2zM1141.4 518.0h3.2v4.0h-3.2zM1147.8 518.0h3.2v4.0h-3.2zM1151.0 518.0h3.2v4.0h-3.2zM1154.2 518.0h3.2v4.0h-3.2zM1157.4 518.0h3.2v4.0h-3.2zM1160.6 518.0h3.2v4.0h-3.2zM1119.0 522.0h3.2v4.0h-3.2zM1122.2 522.0h3.2v4.0h-3.2zM1125.4 522.0h3.2v4.0h-3.2zM1128.6 522.0h3.2v4.0h-3.2zM1131.8 522.0h3.2v4.0h-3.2zM1135.0 522.0h3.2v4.0h-3.2zM1138.2 522.0h3.2v4.0h-3.2zM1144.6 522.0h3.2v4.0h-3.2zM1147.8 522.0h3.2v4.0h-3.2zM1151.0 522.0h3.2v4.0h-3.2zM1154.2 522.0h3.2v4.0h-3.2zM1157.4 522.0h3.2v4.0h-3.2zM1160.6 522.0h3.2v4.0h-3.2zM1119.0 526.0h3.2v4.0h-3.2zM1122.2 526.0h3.2v4.0h-3.2zM1125.4 526.0h3.2v4.0h-3.2zM1128.6 526.0h3.2v4.0h-3.2zM1131.8 526.0h3.2v4.0h-3.2zM1135.0 526.0h3.2v4.0h-3.2zM1138.2 526.0h3.2v4.0h-3.2zM1144.6 526.0h3.2v4.0h-3.2zM1147.8 526.0h3.2v4.0h-3.2zM1151.0 526.0h3.2v4.0h-3.2zM1154.2 526.0h3.2v4.0h-3.2zM1157.4 526.0h3.2v4.0h-3.2zM1160.6 526.0h3.2v4.0h-3.2zM1115.8 530.0h3.2v4.0h-3.2zM1119.0 530.0h3.2v4.0h-3.2zM1122.2 530.0h3.2v4.0h-3.2zM1125.4 530.0h3.2v4.0h-3.2zM1128.6 530.0h3.2v4.0h-3.2zM1131.8 530.0h3.2v4.0h-3.2zM1135.0 530.0h3.2v4.0h-3.2zM1138.2 530.0h3.2v4.0h-3.2zM1141.4 530.0h3.2v4.0h-3.2zM1144.6 530.0h3.2v4.0h-3.2zM1147.8 530.0h3.2v4.0h-3.2zM1151.0 530.0h3.2v4.0h-3.2zM1154.2 530.0h3.2v4.0h-3.2zM1157.4 530.0h3.2v4.0h-3.2zM1160.6 530.0h3.2v4.0h-3.2zM1112.6 534.0h3.2v4.0h-3.2zM1115.8 534.0h3.2v4.0h-3.2zM1119.0 534.0h3.2v4.0h-3.2zM1122.2 534.0h3.2v4.0h-3.2zM1125.4 534.0h3.2v4.0h-3.2zM1128.6 534.0h3.2v4.0h-3.2zM1131.8 534.0h3.2v4.0h-3.2zM1135.0 534.0h3.2v4.0h-3.2zM1138.2 534.0h3.2v4.0h-3.2zM1141.4 534.0h3.2v4.0h-3.2zM1144.6 534.0h3.2v4.0h-3.2zM1151.0 534.0h3.2v4.0h-3.2zM1154.2 534.0h3.2v4.0h-3.2zM1157.4 534.0h3.2v4.0h-3.2zM1160.6 534.0h3.2v4.0h-3.2zM1109.4 538.0h3.2v4.0h-3.2zM1115.8 538.0h3.2v4.0h-3.2zM1119.0 538.0h3.2v4.0h-3.2zM1125.4 538.0h3.2v4.0h-3.2zM1131.8 538.0h3.2v4.0h-3.2zM1135.0 538.0h3.2v4.0h-3.2zM1147.8 538.0h3.2v4.0h-3.2zM1151.0 538.0h3.2v4.0h-3.2zM1154.2 538.0h3.2v4.0h-3.2zM1103.0 542.0h3.2v4.0h-3.2zM1109.4 542.0h3.2v4.0h-3.2zM1112.6 542.0h3.2v4.0h-3.2zM1115.8 542.0h3.2v4.0h-3.2zM1119.0 542.0h3.2v4.0h-3.2zM1122.2 542.0h3.2v4.0h-3.2zM1125.4 542.0h3.2v4.0h-3.2zM1128.6 542.0h3.2v4.0h-3.2zM1131.8 542.0h3.2v4.0h-3.2zM1135.0 542.0h3.2v4.0h-3.2zM1138.2 542.0h3.2v4.0h-3.2zM1141.4 542.0h3.2v4.0h-3.2zM1144.6 542.0h3.2v4.0h-3.2zM1147.8 542.0h3.2v4.0h-3.2zM1151.0 542.0h3.2v4.0h-3.2zM1154.2 542.0h3.2v4.0h-3.2zM1157.4 542.0h3.2v4.0h-3.2zM1160.6 542.0h3.2v4.0h-3.2zM1099.8 546.0h3.2v4.0h-3.2zM1103.0 546.0h3.2v4.0h-3.2zM1106.2 546.0h3.2v4.0h-3.2zM1109.4 546.0h3.2v4.0h-3.2zM1119.0 546.0h3.2v4.0h-3.2zM1122.2 546.0h3.2v4.0h-3.2zM1125.4 546.0h3.2v4.0h-3.2zM1128.6 546.0h3.2v4.0h-3.2zM1131.8 546.0h3.2v4.0h-3.2zM1135.0 546.0h3.2v4.0h-3.2zM1138.2 546.0h3.2v4.0h-3.2zM1141.4 546.0h3.2v4.0h-3.2zM1144.6 546.0h3.2v4.0h-3.2zM1147.8 546.0h3.2v4.0h-3.2zM1151.0 546.0h3.2v4.0h-3.2zM1154.2 546.0h3.2v4.0h-3.2zM1157.4 546.0h3.2v4.0h-3.2zM1160.6 546.0h3.2v4.0h-3.2zM1096.6 550.0h3.2v4.0h-3.2zM1099.8 550.0h3.2v4.0h-3.2zM1103.0 550.0h3.2v4.0h-3.2zM1106.2 550.0h3.2v4.0h-3.2zM1109.4 550.0h3.2v4.0h-3.2zM1112.6 550.0h3.2v4.0h-3.2zM1115.8 550.0h3.2v4.0h-3.2zM1119.0 550.0h3.2v4.0h-3.2zM1122.2 550.0h3.2v4.0h-3.2zM1125.4 550.0h3.2v4.0h-3.2zM1128.6 550.0h3.2v4.0h-3.2zM1135.0 550.0h3.2v4.0h-3.2zM1141.4 550.0h3.2v4.0h-3.2zM1144.6 550.0h3.2v4.0h-3.2zM1147.8 550.0h3.2v4.0h-3.2zM1151.0 550.0h3.2v4.0h-3.2zM1154.2 550.0h3.2v4.0h-3.2zM1157.4 550.0h3.2v4.0h-3.2zM1093.4 554.0h3.2v4.0h-3.2zM1096.6 554.0h3.2v4.0h-3.2zM1099.8 554.0h3.2v4.0h-3.2zM1103.0 554.0h3.2v4.0h-3.2zM1106.2 554.0h3.2v4.0h-3.2zM1109.4 554.0h3.2v4.0h-3.2zM1112.6 554.0h3.2v4.0h-3.2zM1115.8 554.0h3.2v4.0h-3.2zM1119.0 554.0h3.2v4.0h-3.2zM1122.2 554.0h3.2v4.0h-3.2zM1125.4 554.0h3.2v4.0h-3.2zM1131.8 554.0h3.2v4.0h-3.2zM1135.0 554.0h3.2v4.0h-3.2zM1138.2 554.0h3.2v4.0h-3.2zM1141.4 554.0h3.2v4.0h-3.2zM1144.6 554.0h3.2v4.0h-3.2zM1147.8 554.0h3.2v4.0h-3.2zM1151.0 554.0h3.2v4.0h-3.2zM1090.2 558.0h3.2v4.0h-3.2zM1093.4 558.0h3.2v4.0h-3.2zM1096.6 558.0h3.2v4.0h-3.2zM1099.8 558.0h3.2v4.0h-3.2zM1103.0 558.0h3.2v4.0h-3.2zM1106.2 558.0h3.2v4.0h-3.2zM1112.6 558.0h3.2v4.0h-3.2zM1115.8 558.0h3.2v4.0h-3.2zM1122.2 558.0h3.2v4.0h-3.2zM1125.4 558.0h3.2v4.0h-3.2zM1138.2 558.0h3.2v4.0h-3.2zM1141.4 558.0h3.2v4.0h-3.2zM1144.6 558.0h3.2v4.0h-3.2zM1147.8 558.0h3.2v4.0h-3.2zM1087.0 562.0h3.2v4.0h-3.2zM1093.4 562.0h3.2v4.0h-3.2zM1096.6 562.0h3.2v4.0h-3.2zM1099.8 562.0h3.2v4.0h-3.2zM1103.0 562.0h3.2v4.0h-3.2zM1106.2 562.0h3.2v4.0h-3.2zM1109.4 562.0h3.2v4.0h-3.2zM1115.8 562.0h3.2v4.0h-3.2zM1119.0 562.0h3.2v4.0h-3.2zM1122.2 562.0h3.2v4.0h-3.2zM1083.8 566.0h3.2v4.0h-3.2zM1087.0 566.0h3.2v4.0h-3.2zM1090.2 566.0h3.2v4.0h-3.2zM1096.6 566.0h3.2v4.0h-3.2zM1099.8 566.0h3.2v4.0h-3.2zM1103.0 566.0h3.2v4.0h-3.2zM1106.2 566.0h3.2v4.0h-3.2zM1109.4 566.0h3.2v4.0h-3.2zM1112.6 566.0h3.2v4.0h-3.2zM1115.8 566.0h3.2v4.0h-3.2zM1122.2 566.0h3.2v4.0h-3.2zM1077.4 570.0h3.2v4.0h-3.2zM1080.6 570.0h3.2v4.0h-3.2zM1083.8 570.0h3.2v4.0h-3.2zM1087.0 570.0h3.2v4.0h-3.2zM1093.4 570.0h3.2v4.0h-3.2zM1096.6 570.0h3.2v4.0h-3.2zM1103.0 570.0h3.2v4.0h-3.2zM1106.2 570.0h3.2v4.0h-3.2zM1109.4 570.0h3.2v4.0h-3.2zM1112.6 570.0h3.2v4.0h-3.2zM1115.8 570.0h3.2v4.0h-3.2zM1077.4 574.0h3.2v4.0h-3.2zM1080.6 574.0h3.2v4.0h-3.2zM1083.8 574.0h3.2v4.0h-3.2zM1087.0 574.0h3.2v4.0h-3.2zM1090.2 574.0h3.2v4.0h-3.2zM1096.6 574.0h3.2v4.0h-3.2zM1099.8 574.0h3.2v4.0h-3.2zM1103.0 574.0h3.2v4.0h-3.2zM1106.2 574.0h3.2v4.0h-3.2zM1109.4 574.0h3.2v4.0h-3.2zM1112.6 574.0h3.2v4.0h-3.2zM1115.8 574.0h3.2v4.0h-3.2zM1071.0 578.0h3.2v4.0h-3.2zM1074.2 578.0h3.2v4.0h-3.2zM1077.4 578.0h3.2v4.0h-3.2zM1080.6 578.0h3.2v4.0h-3.2zM1087.0 578.0h3.2v4.0h-3.2zM1090.2 578.0h3.2v4.0h-3.2zM1093.4 578.0h3.2v4.0h-3.2zM1096.6 578.0h3.2v4.0h-3.2zM1099.8 578.0h3.2v4.0h-3.2zM1103.0 578.0h3.2v4.0h-3.2zM1106.2 578.0h3.2v4.0h-3.2zM1112.6 578.0h3.2v4.0h-3.2zM1071.0 582.0h3.2v4.0h-3.2zM1077.4 582.0h3.2v4.0h-3.2zM1080.6 582.0h3.2v4.0h-3.2zM1083.8 582.0h3.2v4.0h-3.2zM1087.0 582.0h3.2v4.0h-3.2zM1090.2 582.0h3.2v4.0h-3.2zM1093.4 582.0h3.2v4.0h-3.2zM1096.6 582.0h3.2v4.0h-3.2zM1099.8 582.0h3.2v4.0h-3.2zM1103.0 582.0h3.2v4.0h-3.2zM1106.2 582.0h3.2v4.0h-3.2zM1064.6 586.0h3.2v4.0h-3.2zM1067.8 586.0h3.2v4.0h-3.2zM1071.0 586.0h3.2v4.0h-3.2zM1074.2 586.0h3.2v4.0h-3.2zM1080.6 586.0h3.2v4.0h-3.2zM1083.8 586.0h3.2v4.0h-3.2zM1087.0 586.0h3.2v4.0h-3.2zM1090.2 586.0h3.2v4.0h-3.2zM1093.4 586.0h3.2v4.0h-3.2zM1099.8 586.0h3.2v4.0h-3.2zM1058.2 590.0h3.2v4.0h-3.2zM1071.0 590.0h3.2v4.0h-3.2zM1074.2 590.0h3.2v4.0h-3.2zM1080.6 590.0h3.2v4.0h-3.2zM1083.8 590.0h3.2v4.0h-3.2zM1087.0 590.0h3.2v4.0h-3.2zM1090.2 590.0h3.2v4.0h-3.2zM1093.4 590.0h3.2v4.0h-3.2zM1096.6 590.0h3.2v4.0h-3.2zM1058.2 594.0h3.2v4.0h-3.2zM1061.4 594.0h3.2v4.0h-3.2zM1064.6 594.0h3.2v4.0h-3.2zM1067.8 594.0h3.2v4.0h-3.2zM1071.0 594.0h3.2v4.0h-3.2zM1074.2 594.0h3.2v4.0h-3.2zM1077.4 594.0h3.2v4.0h-3.2zM1080.6 594.0h3.2v4.0h-3.2zM1087.0 594.0h3.2v4.0h-3.2zM1090.2 594.0h3.2v4.0h-3.2zM1055.0 598.0h3.2v4.0h-3.2zM1058.2 598.0h3.2v4.0h-3.2zM1061.4 598.0h3.2v4.0h-3.2zM1064.6 598.0h3.2v4.0h-3.2zM1071.0 598.0h3.2v4.0h-3.2zM1074.2 598.0h3.2v4.0h-3.2zM1077.4 598.0h3.2v4.0h-3.2zM1080.6 598.0h3.2v4.0h-3.2zM1083.8 598.0h3.2v4.0h-3.2zM1087.0 598.0h3.2v4.0h-3.2zM1093.4 598.0h3.2v4.0h-3.2zM1048.6 602.0h3.2v4.0h-3.2zM1055.0 602.0h3.2v4.0h-3.2zM1058.2 602.0h3.2v4.0h-3.2zM1061.4 602.0h3.2v4.0h-3.2zM1064.6 602.0h3.2v4.0h-3.2zM1067.8 602.0h3.2v4.0h-3.2zM1071.0 602.0h3.2v4.0h-3.2zM1074.2 602.0h3.2v4.0h-3.2zM1077.4 602.0h3.2v4.0h-3.2zM1080.6 602.0h3.2v4.0h-3.2zM1083.8 602.0h3.2v4.0h-3.2zM1087.0 602.0h3.2v4.0h-3.2zM1055.0 606.0h3.2v4.0h-3.2zM1061.4 606.0h3.2v4.0h-3.2zM1064.6 606.0h3.2v4.0h-3.2zM1067.8 606.0h3.2v4.0h-3.2zM1071.0 606.0h3.2v4.0h-3.2zM1074.2 606.0h3.2v4.0h-3.2zM1077.4 606.0h3.2v4.0h-3.2zM1080.6 606.0h3.2v4.0h-3.2zM1087.0 606.0h3.2v4.0h-3.2zM1042.2 610.0h3.2v4.0h-3.2zM1045.4 610.0h3.2v4.0h-3.2zM1055.0 610.0h3.2v4.0h-3.2zM1058.2 610.0h3.2v4.0h-3.2zM1061.4 610.0h3.2v4.0h-3.2zM1064.6 610.0h3.2v4.0h-3.2zM1067.8 610.0h3.2v4.0h-3.2zM1071.0 610.0h3.2v4.0h-3.2zM1074.2 610.0h3.2v4.0h-3.2zM1077.4 610.0h3.2v4.0h-3.2zM1080.6 610.0h3.2v4.0h-3.2zM1083.8 610.0h3.2v4.0h-3.2zM1042.2 614.0h3.2v4.0h-3.2zM1045.4 614.0h3.2v4.0h-3.2zM1048.6 614.0h3.2v4.0h-3.2zM1055.0 614.0h3.2v4.0h-3.2zM1061.4 614.0h3.2v4.0h-3.2zM1064.6 614.0h3.2v4.0h-3.2zM1067.8 614.0h3.2v4.0h-3.2zM1071.0 614.0h3.2v4.0h-3.2zM1074.2 614.0h3.2v4.0h-3.2zM1077.4 614.0h3.2v4.0h-3.2zM1080.6 614.0h3.2v4.0h-3.2zM1083.8 614.0h3.2v4.0h-3.2zM1039.0 618.0h3.2v4.0h-3.2zM1042.2 618.0h3.2v4.0h-3.2zM1045.4 618.0h3.2v4.0h-3.2zM1048.6 618.0h3.2v4.0h-3.2zM1051.8 618.0h3.2v4.0h-3.2zM1055.0 618.0h3.2v4.0h-3.2zM1058.2 618.0h3.2v4.0h-3.2zM1061.4 618.0h3.2v4.0h-3.2zM1064.6 618.0h3.2v4.0h-3.2zM1067.8 618.0h3.2v4.0h-3.2zM1071.0 618.0h3.2v4.0h-3.2zM1077.4 618.0h3.2v4.0h-3.2zM1080.6 618.0h3.2v4.0h-3.2zM1045.4 622.0h3.2v4.0h-3.2zM1048.6 622.0h3.2v4.0h-3.2zM1051.8 622.0h3.2v4.0h-3.2zM1058.2 622.0h3.2v4.0h-3.2zM1061.4 622.0h3.2v4.0h-3.2zM1064.6 622.0h3.2v4.0h-3.2zM1067.8 622.0h3.2v4.0h-3.2zM1071.0 622.0h3.2v4.0h-3.2zM1074.2 622.0h3.2v4.0h-3.2zM1077.4 622.0h3.2v4.0h-3.2zM1032.6 626.0h3.2v4.0h-3.2zM1035.8 626.0h3.2v4.0h-3.2zM1039.0 626.0h3.2v4.0h-3.2zM1042.2 626.0h3.2v4.0h-3.2zM1048.6 626.0h3.2v4.0h-3.2zM1051.8 626.0h3.2v4.0h-3.2zM1055.0 626.0h3.2v4.0h-3.2zM1058.2 626.0h3.2v4.0h-3.2zM1061.4 626.0h3.2v4.0h-3.2zM1064.6 626.0h3.2v4.0h-3.2zM1067.8 626.0h3.2v4.0h-3.2zM1071.0 626.0h3.2v4.0h-3.2zM1074.2 626.0h3.2v4.0h-3.2zM1035.8 630.0h3.2v4.0h-3.2zM1039.0 630.0h3.2v4.0h-3.2zM1042.2 630.0h3.2v4.0h-3.2zM1051.8 630.0h3.2v4.0h-3.2zM1055.0 630.0h3.2v4.0h-3.2zM1058.2 630.0h3.2v4.0h-3.2zM1061.4 630.0h3.2v4.0h-3.2zM1064.6 630.0h3.2v4.0h-3.2zM1067.8 630.0h3.2v4.0h-3.2zM1029.4 634.0h3.2v4.0h-3.2zM1032.6 634.0h3.2v4.0h-3.2zM1035.8 634.0h3.2v4.0h-3.2zM1042.2 634.0h3.2v4.0h-3.2zM1045.4 634.0h3.2v4.0h-3.2zM1048.6 634.0h3.2v4.0h-3.2zM1051.8 634.0h3.2v4.0h-3.2zM1055.0 634.0h3.2v4.0h-3.2zM1061.4 634.0h3.2v4.0h-3.2zM1064.6 634.0h3.2v4.0h-3.2zM1026.2 638.0h3.2v4.0h-3.2zM1029.4 638.0h3.2v4.0h-3.2zM1032.6 638.0h3.2v4.0h-3.2zM1039.0 638.0h3.2v4.0h-3.2zM1042.2 638.0h3.2v4.0h-3.2zM1048.6 638.0h3.2v4.0h-3.2zM1051.8 638.0h3.2v4.0h-3.2zM1055.0 638.0h3.2v4.0h-3.2zM1058.2 638.0h3.2v4.0h-3.2zM1023.0 642.0h3.2v4.0h-3.2zM1026.2 642.0h3.2v4.0h-3.2zM1029.4 642.0h3.2v4.0h-3.2zM1032.6 642.0h3.2v4.0h-3.2zM1045.4 642.0h3.2v4.0h-3.2zM1048.6 642.0h3.2v4.0h-3.2zM1051.8 642.0h3.2v4.0h-3.2zM1055.0 642.0h3.2v4.0h-3.2zM1016.6 646.0h3.2v4.0h-3.2zM1019.8 646.0h3.2v4.0h-3.2zM1026.2 646.0h3.2v4.0h-3.2zM1035.8 646.0h3.2v4.0h-3.2zM1042.2 646.0h3.2v4.0h-3.2zM1045.4 646.0h3.2v4.0h-3.2zM1048.6 646.0h3.2v4.0h-3.2zM1013.4 650.0h3.2v4.0h-3.2zM1016.6 650.0h3.2v4.0h-3.2zM1019.8 650.0h3.2v4.0h-3.2zM1029.4 650.0h3.2v4.0h-3.2zM1032.6 650.0h3.2v4.0h-3.2zM1035.8 650.0h3.2v4.0h-3.2zM1039.0 650.0h3.2v4.0h-3.2zM1042.2 650.0h3.2v4.0h-3.2zM1010.2 654.0h3.2v4.0h-3.2zM1013.4 654.0h3.2v4.0h-3.2zM1016.6 654.0h3.2v4.0h-3.2zM1019.8 654.0h3.2v4.0h-3.2zM1023.0 654.0h3.2v4.0h-3.2zM1026.2 654.0h3.2v4.0h-3.2zM1029.4 654.0h3.2v4.0h-3.2zM1032.6 654.0h3.2v4.0h-3.2zM1035.8 654.0h3.2v4.0h-3.2zM1007.0 658.0h3.2v4.0h-3.2zM1010.2 658.0h3.2v4.0h-3.2zM1013.4 658.0h3.2v4.0h-3.2zM1016.6 658.0h3.2v4.0h-3.2zM1023.0 658.0h3.2v4.0h-3.2zM1026.2 658.0h3.2v4.0h-3.2zM1029.4 658.0h3.2v4.0h-3.2zM1003.8 662.0h3.2v4.0h-3.2zM1007.0 662.0h3.2v4.0h-3.2zM1010.2 662.0h3.2v4.0h-3.2zM1019.8 662.0h3.2v4.0h-3.2zM1023.0 662.0h3.2v4.0h-3.2zM1026.2 662.0h3.2v4.0h-3.2zM1003.8 666.0h3.2v4.0h-3.2zM1007.0 666.0h3.2v4.0h-3.2zM1016.6 666.0h3.2v4.0h-3.2zM1000.6 670.0h3.2v4.0h-3.2zM1003.8 670.0h3.2v4.0h-3.2zM1007.0 670.0h3.2v4.0h-3.2zM1010.2 670.0h3.2v4.0h-3.2zM1013.4 670.0h3.2v4.0h-3.2zM1016.6 670.0h3.2v4.0h-3.2zM1000.6 674.0h3.2v4.0h-3.2zM1003.8 674.0h3.2v4.0h-3.2zM1010.2 674.0h3.2v4.0h-3.2zM1013.4 674.0h3.2v4.0h-3.2zM997.4 678.0h3.2v4.0h-3.2zM1000.6 678.0h3.2v4.0h-3.2zM1007.0 678.0h3.2v4.0h-3.2zM1010.2 678.0h3.2v4.0h-3.2zM1003.8 682.0h3.2v4.0h-3.2zM1007.0 682.0h3.2v4.0h-3.2zM984.6 686.0h3.2v4.0h-3.2zM994.2 686.0h3.2v4.0h-3.2zM1000.6 686.0h3.2v4.0h-3.2zM1003.8 686.0h3.2v4.0h-3.2zM987.8 690.0h3.2v4.0h-3.2zM991.0 690.0h3.2v4.0h-3.2zM997.4 690.0h3.2v4.0h-3.2zM978.2 694.0h3.2v4.0h-3.2zM981.4 694.0h3.2v4.0h-3.2zM984.6 694.0h3.2v4.0h-3.2zM987.8 694.0h3.2v4.0h-3.2zM994.2 694.0h3.2v4.0h-3.2zM971.8 698.0h3.2v4.0h-3.2zM978.2 698.0h3.2v4.0h-3.2zM984.6 698.0h3.2v4.0h-3.2zM987.8 698.0h3.2v4.0h-3.2zM978.2 702.0h3.2v4.0h-3.2zM981.4 702.0h3.2v4.0h-3.2zM984.6 702.0h3.2v4.0h-3.2zM987.8 702.0h3.2v4.0h-3.2zM968.6 706.0h3.2v4.0h-3.2zM978.2 706.0h3.2v4.0h-3.2zM981.4 706.0h3.2v4.0h-3.2zM962.2 710.0h3.2v4.0h-3.2zM971.8 710.0h3.2v4.0h-3.2zM975.0 710.0h3.2v4.0h-3.2zM968.6 714.0h3.2v4.0h-3.2zM959.0 718.0h3.2v4.0h-3.2zM968.6 718.0h3.2v4.0h-3.2zM959.0 722.0h3.2v4.0h-3.2z" fill="#000096"/>
<g clip-path="url(#cm)">
<polygon points="202.0,198.0 213.0,196.6 227.0,193.4 235.0,185.6 236.6,193.4 242.5,197.5 250.0,210.0 257.5,225.0 262.5,245.0 267.5,265.0 272.5,287.5 276.0,315.0 280.0,330.0 284.0,342.0 289.0,340.0 289.0,300.0 289.5,260.0 290.0,240.0 295.0,245.0 305.0,250.0 312.5,240.0 317.5,235.0 325.0,235.0 327.5,202.5 331.0,187.5 335.0,195.0 337.5,220.0 345.0,225.0 346.0,187.5 350.0,175.0 355.0,177.5 355.0,200.0 362.5,190.0 365.0,165.0 372.5,165.0 375.0,182.5 372.5,212.5 367.5,225.0 360.0,242.5 362.5,255.0 355.0,270.0 352.5,285.0 355.0,305.0 362.5,320.0 372.5,330.0 385.0,322.0 392.5,318.0 395.0,328.0 405.0,326.0 410.0,324.0 415.0,330.0 420.0,350.3 423.2,350.3 423.2,354.4 426.4,354.4 426.4,346.7 429.6,346.7 429.6,353.4 432.8,353.4 432.8,348.9 436.0,348.9 436.0,349.1 439.2,349.1 439.2,357.2 442.4,357.2 442.4,352.5 445.6,352.5 445.6,363.9 448.8,363.9 448.8,378.7 452.0,378.7 452.0,387.3 455.2,387.3 455.2,371.4 458.4,371.4 458.4,361.8 461.6,361.8 461.6,357.9 464.8,357.9 464.8,366.9 468.0,366.9 468.0,371.6 471.2,371.6 471.2,373.4 474.4,373.4 474.4,375.7 477.6,375.7 477.6,374.9 480.8,374.9 480.8,374.5 484.0,374.5 484.0,376.0 487.2,376.0 487.2,377.7 490.4,377.7 490.4,382.9 493.6,382.9 493.6,381.9 496.8,381.9 496.8,390.2 500.0,390.2 500.0,395.2 503.2,395.2 503.2,400.9 506.4,400.9 506.4,393.6 509.6,393.6 509.6,390.0 512.8,390.0 512.8,380.1 516.0,380.1 516.0,386.3 519.2,386.3 519.2,383.9 522.4,383.9 522.4,395.3 525.6,395.3 525.6,400.4 528.8,400.4 528.8,385.1 532.0,385.1 532.0,393.2 535.2,393.2 535.2,393.3 538.4,393.3 538.4,401.1 541.6,401.1 541.6,407.9 544.8,407.9 544.8,406.7 548.0,406.7 548.0,407.0 551.2,407.0 551.2,401.1 554.4,401.1 554.4,408.5 557.6,408.5 557.6,405.7 560.8,405.7 560.8,401.5 564.0,401.5 564.0,402.0 567.2,402.0 567.2,396.6 570.4,396.6 570.4,400.3 573.6,400.3 573.6,392.4 576.8,392.4 576.8,399.7 580.0,399.7 580.0,417.0 583.2,417.0 583.2,415.0 586.4,415.0 586.4,430.6 589.6,430.6 589.6,415.1 592.8,415.1 592.8,422.1 596.0,422.1 596.0,420.9 599.2,420.9 599.2,428.1 602.4,428.1 602.4,415.2 605.6,415.2 605.6,426.2 608.8,426.2 608.8,420.2 612.0,420.2 612.0,422.6 615.2,422.6 615.2,421.1 618.4,421.1 618.4,426.0 621.6,426.0 621.6,420.0 624.8,420.0 624.8,423.7 628.0,423.7 628.0,425.2 631.2,425.2 631.2,430.4 634.4,430.4 634.4,415.6 637.6,415.6 637.6,429.3 640.8,429.3 640.8,427.3 644.0,427.3 644.0,422.3 647.2,422.3 647.2,425.1 650.4,425.1 650.4,422.4 653.6,422.4 653.6,429.8 656.8,429.8 656.8,424.9 660.0,424.9 660.0,423.5 663.2,423.5 663.2,423.6 666.4,423.6 666.4,423.9 669.6,423.9 669.6,424.1 672.8,424.1 672.8,421.8 676.0,421.8 676.0,432.2 679.2,432.2 679.2,418.5 682.4,418.5 682.4,412.7 685.6,412.7 685.6,425.0 688.8,425.0 688.8,425.1 692.0,425.1 692.0,427.0 695.2,427.0 695.2,425.1 698.4,425.1 698.4,425.5 701.6,425.5 701.6,427.0 704.8,427.0 704.8,429.1 708.0,429.1 708.0,424.0 711.2,424.0 711.2,424.2 714.4,424.2 714.4,432.2 717.6,432.2 717.6,427.1 720.8,427.1 720.8,421.7 724.0,421.7 724.0,433.1 727.2,433.1 727.2,427.6 730.4,427.6 730.4,422.7 733.6,422.7 733.6,420.5 736.8,420.5 736.8,425.5 740.0,425.5 740.0,421.4 743.2,421.4 743.2,420.5 746.4,420.5 746.4,419.5 749.6,419.5 749.6,421.9 752.8,421.9 752.8,426.6 756.0,426.6 756.0,420.2 759.2,420.2 759.2,415.7 762.4,415.7 762.4,422.1 765.6,422.1 765.6,419.1 768.8,419.1 768.8,420.7 772.0,420.7 772.0,420.3 775.2,420.3 775.2,413.8 778.4,413.8 778.4,412.2 781.6,412.2 781.6,410.9 784.8,410.9 784.8,405.3 788.0,405.3 788.0,413.1 791.2,413.1 791.2,417.8 794.4,417.8 794.4,415.8 797.6,415.8 797.6,416.6 800.8,416.6 800.8,416.6 804.0,416.6 804.0,414.0 807.2,414.0 807.2,413.2 810.4,413.2 810.4,413.9 813.6,413.9 813.6,411.7 816.8,411.7 816.8,412.3 820.0,412.3 820.0,407.3 823.2,407.3 823.2,413.1 826.4,413.1 826.4,411.0 829.6,411.0 829.6,405.8 832.8,405.8 832.8,401.3 836.0,401.3 836.0,411.0 839.2,411.0 839.2,416.6 842.4,416.6 842.4,411.9 845.6,411.9 845.6,410.7 848.8,410.7 848.8,406.7 852.0,406.7 852.0,407.3 855.2,407.3 855.2,398.0 858.4,398.0 858.4,407.1 861.6,407.1 861.6,405.4 864.8,405.4 864.8,412.4 868.0,412.4 868.0,409.4 871.2,409.4 871.2,406.0 874.4,406.0 874.4,399.0 877.6,399.0 877.6,399.2 880.8,399.2 880.8,402.9 884.0,402.9 884.0,409.9 887.2,409.9 887.2,412.2 890.4,412.2 890.4,414.1 893.6,414.1 893.6,417.6 896.8,417.6 896.8,409.4 900.0,409.4 900.0,395.2 903.2,395.2 903.2,388.8 906.4,388.8 906.4,389.8 909.6,389.8 909.6,395.3 912.8,395.3 912.8,402.0 916.0,402.0 916.0,398.7 919.2,398.7 919.2,399.2 922.4,399.2 922.4,392.1 925.6,392.1 925.6,387.4 928.8,387.4 928.8,395.2 932.0,395.2 932.0,394.6 935.2,394.6 935.2,394.8 938.4,394.8 938.4,404.3 941.6,404.3 941.6,405.8 944.8,405.8 944.8,401.8 948.0,401.8 948.0,398.1 951.2,398.1 951.2,394.0 954.4,394.0 954.4,380.0 957.6,380.0 957.6,385.0 960.8,385.0 960.8,386.1 964.0,386.1 964.0,387.4 967.2,387.4 967.2,381.5 970.4,381.5 970.4,385.4 973.6,385.4 973.6,379.7 976.8,379.7 976.8,388.5 980.0,388.5 980.0,392.5 983.2,392.5 983.2,394.6 986.4,394.6 986.4,394.3 989.6,394.3 989.6,386.2 992.8,386.2 992.8,383.1 996.0,383.1 996.0,373.0 999.2,373.0 999.2,379.0 1002.4,379.0 1002.4,383.0 1005.6,383.0 1005.6,379.0 1008.8,379.0 1008.8,382.8 1012.0,382.8 1012.0,368.6 1015.2,368.6 1015.2,372.1 1018.4,372.1 1018.4,360.9 1021.6,360.9 1021.6,364.3 1024.8,364.3 1024.8,381.4 1028.0,381.4 1028.0,379.4 1031.2,379.4 1031.2,373.8 1034.4,373.8 1034.4,374.1 1037.6,374.1 1037.6,367.2 1040.8,367.2 1040.8,371.2 1044.0,371.2 1044.0,369.4 1047.2,369.4 1047.2,360.6 1050.4,360.6 1050.4,352.8 1053.6,352.8 1053.6,354.8 1056.8,354.8 1056.8,361.7 1060.0,361.7 1060.0,368.8 1063.2,368.8 1063.2,368.3 1066.4,368.3 1066.4,360.4 1069.6,360.4 1069.6,355.0 1072.8,355.0 1072.8,359.4 1076.0,359.4 1076.0,362.6 1079.2,362.6 1079.2,382.9 1082.4,382.9 1082.4,355.4 1085.6,355.4 1085.6,345.6 1088.8,345.6 1088.8,338.7 1092.0,338.7 1092.0,346.8 1095.2,346.8 1095.2,350.3 1098.4,350.3 1098.4,361.4 1101.6,361.4 1101.6,360.8 1104.8,360.8 1104.8,354.2 1108.0,354.2 1108.0,355.4 1111.2,355.4 1111.2,357.6 1114.4,357.6 1114.4,372.8 1117.6,372.8 1117.6,357.1 1120.8,357.1 1120.8,348.6 1124.0,348.6 1124.0,342.2 1127.2,342.2 1127.2,357.6 1130.4,357.6 1130.4,351.7 1133.6,351.7 1133.6,359.1 1136.8,359.1 1136.8,357.3 1140.0,357.3 1140.0,361.1 1143.2,361.1 1143.2,353.4 1146.4,353.4 1146.4,370.7 1149.6,370.7 1149.6,379.7 1152.8,379.7 1152.8,380.9 1156.0,380.9 1156.0,379.8 1159.2,379.8 1159.2,374.1 1162.0,374.1 1163.0,470.0 1162.0,474.7 1161.6,474.7 1161.6,486.5 1158.4,486.5 1158.4,493.7 1155.2,493.7 1155.2,492.5 1152.0,492.5 1152.0,506.2 1148.8,506.2 1148.8,506.4 1145.6,506.4 1145.6,500.4 1142.4,500.4 1142.4,507.5 1139.2,507.5 1139.2,508.0 1136.0,508.0 1136.0,508.9 1132.8,508.9 1132.8,509.8 1129.6,509.8 1129.6,510.6 1126.4,510.6 1126.4,514.2 1123.2,514.2 1123.2,501.9 1120.0,501.9 1120.0,501.7 1116.8,501.7 1116.8,494.6 1113.6,494.6 1113.6,503.8 1110.4,503.8 1110.4,500.9 1107.2,500.9 1107.2,501.5 1104.0,501.5 1104.0,507.1 1100.8,507.1 1100.8,505.0 1097.6,505.0 1097.6,500.1 1094.4,500.1 1094.4,503.4 1091.2,503.4 1091.2,506.7 1088.0,506.7 1088.0,511.2 1084.8,511.2 1084.8,519.0 1081.6,519.0 1081.6,508.7 1078.4,508.7 1078.4,511.0 1075.2,511.0 1075.2,506.0 1072.0,506.0 1072.0,509.6 1068.8,509.6 1068.8,511.5 1065.6,511.5 1065.6,519.3 1062.4,519.3 1062.4,521.3 1059.2,521.3 1059.2,514.8 1056.0,514.8 1056.0,504.2 1052.8,504.2 1052.8,496.8 1049.6,496.8 1049.6,504.2 1046.4,504.2 1046.4,515.1 1043.2,515.1 1043.2,519.9 1040.0,519.9 1040.0,508.6 1036.8,508.6 1036.8,506.8 1033.6,506.8 1033.6,516.1 1030.4,516.1 1030.4,519.0 1027.2,519.0 1027.2,521.7 1024.0,521.7 1024.0,525.3 1020.8,525.3 1020.8,509.3 1017.6,509.3 1017.6,499.0 1014.4,499.0 1014.4,507.7 1011.2,507.7 1011.2,520.8 1008.0,520.8 1008.0,529.6 1004.8,529.6 1004.8,519.7 1001.6,519.7 1001.6,517.2 998.4,517.2 998.4,512.6 995.2,512.6 995.2,516.0 992.0,516.0 992.0,525.6 988.8,525.6 988.8,532.6 985.6,532.6 985.6,538.7 982.4,538.7 982.4,537.8 979.2,537.8 979.2,531.2 976.0,531.2 976.0,524.1 972.8,524.1 972.8,520.2 969.6,520.2 969.6,522.6 966.4,522.6 966.4,532.0 963.2,532.0 963.2,526.3 960.0,526.3 960.0,522.7 956.8,522.7 956.8,534.1 953.6,534.1 953.6,541.8 950.4,541.8 950.4,546.6 947.2,546.6 947.2,543.0 944.0,543.0 944.0,545.6 940.8,545.6 940.8,549.2 937.6,549.2 937.6,546.6 934.4,546.6 934.4,542.6 931.2,542.6 931.2,533.2 928.0,533.2 928.0,530.0 924.8,530.0 924.8,530.7 921.6,530.7 921.6,537.4 918.4,537.4 918.4,545.9 915.2,545.9 915.2,544.9 912.0,544.9 912.0,539.0 908.8,539.0 908.8,536.7 905.6,536.7 905.6,528.8 902.4,528.8 902.4,540.5 899.2,540.5 899.2,551.8 896.0,551.8 896.0,553.5 892.8,553.5 892.8,550.4 889.6,550.4 889.6,555.8 886.4,555.8 886.4,546.8 883.2,546.8 883.2,546.2 880.0,546.2 880.0,548.1 876.8,548.1 876.8,546.2 873.6,546.2 873.6,550.8 870.4,550.8 870.4,557.2 867.2,557.2 867.2,555.1 864.0,555.1 864.0,556.9 860.8,556.9 860.8,541.0 857.6,541.0 857.6,536.8 854.4,536.8 854.4,550.5 851.2,550.5 851.2,553.9 848.0,553.9 848.0,559.1 844.8,559.1 844.8,568.0 841.6,568.0 841.6,567.3 838.4,567.3 838.4,557.3 835.2,557.3 835.2,554.0 832.0,554.0 832.0,541.9 828.8,541.9 828.8,547.3 825.6,547.3 825.6,558.4 822.4,558.4 822.4,555.0 819.2,555.0 819.2,556.5 816.0,556.5 816.0,555.1 812.8,555.1 812.8,550.7 809.6,550.7 809.6,561.8 806.4,561.8 806.4,563.1 803.2,563.1 803.2,571.3 800.0,571.3 800.0,568.8 796.8,568.8 796.8,560.6 793.6,560.6 793.6,560.2 790.4,560.2 790.4,564.0 787.2,564.0 787.2,560.9 784.0,560.9 784.0,550.5 780.8,550.5 780.8,559.5 777.6,559.5 777.6,561.8 774.4,561.8 774.4,582.5 771.2,582.5 771.2,580.1 768.0,580.1 768.0,578.3 764.8,578.3 764.8,569.6 761.6,569.6 761.6,574.6 758.4,574.6 758.4,572.6 755.2,572.6 755.2,570.9 752.0,570.9 752.0,566.5 748.8,566.5 748.8,572.3 745.6,572.3 745.6,574.4 742.4,574.4 742.4,575.6 739.2,575.6 739.2,575.8 736.0,575.8 736.0,578.5 732.8,578.5 732.8,565.9 729.6,565.9 729.6,573.8 726.4,573.8 726.4,571.8 723.2,571.8 723.2,571.7 720.0,571.7 720.0,583.1 716.8,583.1 716.8,583.6 713.6,583.6 713.6,573.7 710.4,573.7 710.4,572.5 707.2,572.5 707.2,574.2 704.0,574.2 704.0,580.0 700.8,580.0 700.8,582.8 697.6,582.8 697.6,579.2 694.4,579.2 694.4,567.5 691.2,567.5 691.2,566.2 688.0,566.2 688.0,573.6 684.8,573.6 684.8,578.7 681.6,578.7 681.6,585.6 678.4,585.6 678.4,582.7 675.2,582.7 675.2,580.6 672.0,580.6 672.0,574.5 668.8,574.5 668.8,564.1 665.6,564.1 665.6,566.8 662.4,566.8 662.4,571.9 659.2,571.9 659.2,569.9 656.0,569.9 656.0,571.5 652.8,571.5 652.8,569.9 649.6,569.9 649.6,571.4 646.4,571.4 646.4,571.9 643.2,571.9 643.2,577.0 640.0,577.0 640.0,575.7 636.8,575.7 636.8,576.4 633.6,576.4 633.6,574.9 630.4,574.9 630.4,569.1 627.2,569.1 627.2,578.0 624.0,578.0 624.0,578.9 620.8,578.9 620.8,573.5 617.6,573.5 617.6,571.3 614.4,571.3 614.4,570.4 611.2,570.4 611.2,570.2 608.0,570.2 608.0,578.1 604.8,578.1 604.8,581.8 601.6,581.8 601.6,572.4 598.4,572.4 598.4,561.9 595.2,561.9 595.2,568.1 592.0,568.1 592.0,568.8 588.8,568.8 588.8,557.3 585.6,557.3 585.6,570.9 582.4,570.9 582.4,573.5 579.2,573.5 579.2,560.3 576.0,560.3 576.0,546.0 572.8,546.0 572.8,556.7 569.6,556.7 569.6,561.5 566.4,561.5 566.4,568.8 563.2,568.8 563.2,565.3 560.0,565.3 560.0,566.7 556.8,566.7 556.8,553.4 553.6,553.4 553.6,557.4 550.4,557.4 550.4,566.3 547.2,566.3 547.2,567.7 544.0,567.7 544.0,559.9 540.8,559.9 540.8,560.6 537.6,560.6 537.6,547.5 534.4,547.5 534.4,552.5 531.2,552.5 531.2,553.7 528.0,553.7 528.0,556.1 524.8,556.1 524.8,552.4 521.6,552.4 521.6,549.7 518.4,549.7 518.4,549.7 515.2,549.7 515.2,554.2 512.0,554.2 512.0,557.7 508.8,557.7 508.8,560.3 505.6,560.3 505.6,550.1 502.4,550.1 502.4,552.1 499.2,552.1 499.2,545.5 496.0,545.5 496.0,549.8 492.8,549.8 492.8,540.2 489.6,540.2 489.6,536.3 486.4,536.3 486.4,537.4 483.2,537.4 483.2,537.8 480.0,537.8 480.0,541.4 476.8,541.4 476.8,545.8 473.6,545.8 473.6,542.2 470.4,542.2 470.4,539.1 467.2,539.1 467.2,524.1 464.0,524.1 464.0,527.9 460.8,527.9 460.8,535.7 457.6,535.7 457.6,534.1 454.4,534.1 454.4,549.2 451.2,549.2 451.2,545.1 448.0,545.1 448.0,532.6 444.8,532.6 444.8,511.2 441.6,511.2 441.6,509.9 438.4,509.9 438.4,505.5 435.2,505.5 435.2,511.4 432.0,511.4 432.0,518.3 428.8,518.3 428.8,537.5 425.6,537.5 425.6,518.7 422.4,518.7 422.4,509.6 419.2,509.6 419.2,495.1 416.0,495.1 416.0,488.4 412.8,488.4 412.8,510.5 409.6,510.5 409.6,517.6 406.4,517.6 406.4,531.3 403.2,531.3 403.2,524.9 400.0,524.9 400.0,502.9 396.8,502.9 396.8,492.3 393.6,492.3 393.6,482.2 390.4,482.2 390.4,486.4 387.2,486.4 387.2,504.4 384.0,504.4 384.0,518.2 380.8,518.2 380.8,527.0 377.6,527.0 377.6,518.8 374.4,518.8 374.4,506.4 371.2,506.4 371.2,492.9 368.0,492.9 368.0,499.8 364.8,499.8 364.8,516.0 361.6,516.0 361.6,499.4 358.4,499.4 358.4,492.8 355.2,492.8 355.2,476.0 352.0,476.0 352.0,493.1 348.8,493.1 348.8,507.8 345.6,507.8 345.6,512.7 342.4,512.7 342.4,506.6 339.2,506.6 339.2,497.5 336.0,497.5 336.0,496.3 332.8,496.3 332.8,503.4 329.6,503.4 329.6,511.9 326.4,511.9 326.4,500.8 323.2,500.8 323.2,488.9 320.0,488.9 320.0,490.1 316.8,490.1 316.8,484.1 313.6,484.1 313.6,503.5 310.4,503.5 310.4,504.8 307.2,504.8 307.2,499.0 304.0,499.0 304.0,492.1 300.8,492.1 300.8,473.6 297.6,473.6 297.6,483.6 294.4,483.6 294.4,522.6 291.2,522.6 291.2,537.9 288.0,537.9 278.8,550.0 270.0,509.0 270.0,508.0 274.2,508.0 274.2,504.0 278.2,504.0 278.2,500.0 272.5,500.0 272.5,496.0 276.7,496.0 276.7,492.0 268.9,492.0 268.9,488.0 269.3,488.0 269.3,484.0 272.4,484.0 272.4,480.0 278.0,480.0 278.0,476.0 276.5,476.0 276.5,472.0 274.9,472.0 274.9,468.0 275.4,468.0 275.4,464.0 273.1,464.0 273.1,460.0 272.7,460.0 272.7,456.0 266.5,456.0 266.5,452.0 270.7,452.0 270.7,448.0 266.5,448.0 266.5,444.0 271.9,444.0 271.9,440.0 259.7,440.0 259.7,436.0 270.9,436.0 270.9,432.0 263.2,432.0 263.2,428.0 265.9,428.0 265.9,424.0 262.7,424.0 262.7,420.0 270.5,420.0 270.5,416.0 259.9,416.0 259.9,412.0 266.8,412.0 266.8,408.0 260.7,408.0 260.7,404.0 261.2,404.0 261.2,400.0 268.3,400.0 268.3,396.0 256.7,396.0 256.7,392.0 257.3,392.0 257.3,388.0 249.8,388.0 249.8,384.0 259.5,384.0 259.5,380.0 257.3,380.0 257.3,376.0 257.5,376.0 257.5,372.0 259.1,372.0 259.1,368.0 249.3,368.0 249.3,364.0 255.4,364.0 255.4,360.0 251.7,360.0 251.7,356.0 254.0,356.0 254.0,352.0 247.4,352.0 247.4,348.0 241.4,348.0 241.4,344.0 246.5,344.0 246.5,340.0 246.5,340.0 246.5,336.0 249.4,336.0 249.4,332.0 252.1,332.0 252.1,328.0 250.3,328.0 250.3,324.0 245.7,324.0 245.7,320.0 241.5,320.0 241.5,316.0 236.0,316.0 236.0,312.0 234.7,312.0 234.7,308.0 235.1,308.0 235.1,304.0 237.6,304.0 237.6,300.0 244.4,300.0 244.4,296.0 233.7,296.0 233.7,292.0 232.3,292.0 232.3,288.0 233.5,288.0 233.5,284.0 238.8,284.0 238.8,280.0 231.5,280.0 231.5,276.0 232.1,276.0 232.1,272.0 224.1,272.0 224.1,268.0 223.7,268.0 223.7,264.0 228.2,264.0 228.2,260.0 224.4,260.0 224.4,256.0 227.6,256.0 227.6,252.0 231.9,252.0 231.9,248.0 219.7,248.0 219.7,244.0 227.3,244.0 227.3,240.0 219.5,240.0 219.5,236.0 216.7,236.0 216.7,232.0 217.7,232.0 217.7,228.0 215.3,228.0 215.3,224.0 213.2,224.0 213.2,220.0 208.6,220.0 208.6,216.0 214.9,216.0 214.9,212.0 210.8,212.0 210.8,208.0 211.4,208.0 211.4,204.0 204.6,204.0 204.6,200.0" fill="#0000e6" stroke="#000096" stroke-width="18" stroke-linejoin="round" filter="url(#bl3)"/>
<polyline points="286.0,395.0 291.0,430.0 298.0,415.0 310.0,402.0 322.0,405.0 336.0,378.0 342.0,425.0 349.0,412.0 357.0,385.0 363.0,408.0 375.0,396.0 392.0,399.0 405.0,410.0 417.0,418.0 428.0,428.0 437.0,432.0 447.0,447.0 453.0,462.0 466.0,452.0 478.0,458.0 478.0,454.0 487.5,460.0 506.0,477.5 515.6,466.6 526.6,482.0 534.0,472.8 543.8,485.0 554.7,479.0 564.0,490.0 573.4,476.0 584.0,499.4 594.0,485.0 603.0,502.5 612.5,485.0 625.0,502.5 640.0,497.0 655.6,504.0 666.5,490.0 679.0,510.0 690.0,488.4 702.5,507.0 708.8,493.0 719.7,512.0 729.0,490.0 741.6,508.8 755.6,496.0 772.8,501.0 785.0,485.0 804.0,494.7 824.0,490.0 833.8,483.8 844.7,499.4 855.6,471.0 868.0,485.0 879.0,473.0 895.0,470.0 910.0,468.0 930.0,462.0 950.0,463.0 970.0,455.0 990.0,452.0 1010.0,446.0 1030.0,452.0 1050.0,444.0 1065.0,452.0 1080.0,440.0 1095.0,447.0 1110.0,436.0 1125.0,446.0 1138.0,435.0 1150.0,442.0 1160.0,436.0" fill="none" stroke="#0034ff" stroke-width="30" stroke-linejoin="round" filter="url(#bl3)"/>
<polyline points="286.0,395.0 291.0,430.0 298.0,415.0 310.0,402.0 322.0,405.0 336.0,378.0 342.0,425.0 349.0,412.0 357.0,385.0 363.0,408.0 375.0,396.0 392.0,399.0 405.0,410.0 417.0,418.0 428.0,428.0 437.0,432.0 447.0,447.0 453.0,462.0 466.0,452.0 478.0,458.0 478.0,454.0 487.5,460.0 506.0,477.5 515.6,466.6 526.6,482.0 534.0,472.8 543.8,485.0 554.7,479.0 564.0,490.0 573.4,476.0 584.0,499.4 594.0,485.0 603.0,502.5 612.5,485.0 625.0,502.5 640.0,497.0 655.6,504.0 666.5,490.0 679.0,510.0 690.0,488.4 702.5,507.0 708.8,493.0 719.7,512.0 729.0,490.0 741.6,508.8 755.6,496.0 772.8,501.0 785.0,485.0 804.0,494.7 824.0,490.0 833.8,483.8 844.7,499.4 855.6,471.0 868.0,485.0 879.0,473.0 895.0,470.0 910.0,468.0 930.0,462.0 950.0,463.0 970.0,455.0 990.0,452.0 1010.0,446.0 1030.0,452.0 1050.0,444.0 1065.0,452.0 1080.0,440.0 1095.0,447.0 1110.0,436.0 1125.0,446.0 1138.0,435.0 1150.0,442.0 1160.0,436.0" fill="none" stroke="#0080ff" stroke-width="8" stroke-linejoin="round" filter="url(#bl2)"/>
<rect x="180" y="150" width="1000" height="450" fill="url(#stp)"/>
</g>
<polyline points="437.0,432.0 447.0,447.0 453.0,462.0 466.0,452.0 478.0,458.0 478.0,454.0 487.5,460.0 506.0,477.5 515.6,466.6 526.6,482.0 534.0,472.8 543.8,485.0 554.7,479.0 564.0,490.0 573.4,476.0 584.0,499.4 594.0,485.0 603.0,502.5 612.5,485.0 625.0,502.5 640.0,497.0 655.6,504.0 666.5,490.0 679.0,510.0 690.0,488.4 702.5,507.0 708.8,493.0 719.7,512.0 729.0,490.0 741.6,508.8 755.6,496.0 772.8,501.0 785.0,485.0 804.0,494.7 824.0,490.0 833.8,483.8 844.7,499.4 855.6,471.0 868.0,485.0 879.0,473.0 895.0,470.0 910.0,468.0 930.0,462.0 950.0,463.0 970.0,455.0 990.0,452.0 1010.0,446.0 1030.0,452.0 1050.0,444.0 1065.0,452.0 1080.0,440.0 1095.0,447.0 1110.0,436.0 1125.0,446.0 1138.0,435.0 1150.0,442.0 1160.0,436.0" fill="none" stroke="#00d8ff" stroke-width="2.3" stroke-opacity="0.9" stroke-linejoin="round"/>
<g stroke="#00b8ff" stroke-width="3.2" stroke-linecap="round" filter="url(#bl)"><line x1="289" y1="377" x2="293" y2="445"/><line x1="334" y1="364" x2="340" y2="391"/><line x1="345" y1="411" x2="349" y2="434"/><line x1="353" y1="377" x2="361" y2="411"/><line x1="372" y1="388" x2="377" y2="407"/><line x1="388" y1="391" x2="395" y2="407"/><line x1="413" y1="404" x2="422" y2="431"/><line x1="432" y1="422" x2="442" y2="438"/><line x1="323" y1="398" x2="326" y2="412"/><line x1="305" y1="385" x2="309" y2="405"/></g>
<g clip-path="url(#cw)">
<polyline points="1187.5,300.0 1192.0,340.0 1200.6,361.0 1212.0,350.0 1224.7,339.0 1244.4,334.7 1268.5,317.0 1292.5,299.7 1318.8,282.0 1335.0,274.0" fill="none" stroke="#0018f0" stroke-width="16" stroke-linejoin="round" filter="url(#bl2)"/>
<polyline points="1187.5,300.0 1192.0,340.0 1200.6,361.0 1212.0,350.0 1224.7,339.0 1244.4,334.7 1268.5,317.0 1292.5,299.7 1318.8,282.0 1335.0,274.0" fill="none" stroke="#0050ff" stroke-width="3" stroke-linejoin="round"/>
</g>
<path d="M212.8 206.0h3.2v4.0h-3.2zM216.0 206.0h3.2v4.0h-3.2zM222.4 206.0h3.2v4.0h-3.2zM212.8 214.0h3.2v4.0h-3.2zM225.6 214.0h3.2v4.0h-3.2zM212.8 218.0h3.2v4.0h-3.2zM212.8 222.0h3.2v4.0h-3.2zM225.6 222.0h3.2v4.0h-3.2zM216.0 226.0h3.2v4.0h-3.2zM225.6 226.0h3.2v4.0h-3.2zM216.0 230.0h3.2v4.0h-3.2zM219.2 230.0h3.2v4.0h-3.2zM225.6 238.0h3.2v4.0h-3.2zM235.2 238.0h3.2v4.0h-3.2zM225.6 242.0h3.2v4.0h-3.2zM238.4 242.0h3.2v4.0h-3.2zM235.2 250.0h3.2v4.0h-3.2zM232.0 254.0h3.2v4.0h-3.2zM238.4 254.0h3.2v4.0h-3.2zM241.6 258.0h3.2v4.0h-3.2zM232.0 262.0h3.2v4.0h-3.2zM238.4 262.0h3.2v4.0h-3.2zM241.6 270.0h3.2v4.0h-3.2zM238.4 274.0h3.2v4.0h-3.2zM241.6 278.0h3.2v4.0h-3.2zM248.0 278.0h3.2v4.0h-3.2zM241.6 282.0h3.2v4.0h-3.2zM238.4 286.0h3.2v4.0h-3.2zM248.0 286.0h3.2v4.0h-3.2zM241.6 290.0h3.2v4.0h-3.2zM241.6 294.0h3.2v4.0h-3.2zM248.0 298.0h3.2v4.0h-3.2zM241.6 302.0h3.2v4.0h-3.2zM248.0 302.0h3.2v4.0h-3.2zM241.6 306.0h3.2v4.0h-3.2zM244.8 306.0h3.2v4.0h-3.2zM251.2 310.0h3.2v4.0h-3.2zM251.2 314.0h3.2v4.0h-3.2zM254.4 314.0h3.2v4.0h-3.2zM254.4 322.0h3.2v4.0h-3.2zM248.0 334.0h3.2v4.0h-3.2zM254.4 334.0h3.2v4.0h-3.2zM257.6 334.0h3.2v4.0h-3.2zM251.2 338.0h3.2v4.0h-3.2zM254.4 338.0h3.2v4.0h-3.2zM257.6 338.0h3.2v4.0h-3.2zM260.8 338.0h3.2v4.0h-3.2zM257.6 346.0h3.2v4.0h-3.2zM260.8 350.0h3.2v4.0h-3.2zM264.0 350.0h3.2v4.0h-3.2zM251.2 354.0h3.2v4.0h-3.2zM264.0 354.0h3.2v4.0h-3.2zM257.6 362.0h3.2v4.0h-3.2zM257.6 366.0h3.2v4.0h-3.2zM257.6 370.0h3.2v4.0h-3.2zM267.2 370.0h3.2v4.0h-3.2zM264.0 378.0h3.2v4.0h-3.2zM267.2 378.0h3.2v4.0h-3.2zM257.6 386.0h3.2v4.0h-3.2zM264.0 390.0h3.2v4.0h-3.2zM270.4 390.0h3.2v4.0h-3.2zM260.8 394.0h3.2v4.0h-3.2zM267.2 394.0h3.2v4.0h-3.2zM264.0 398.0h3.2v4.0h-3.2zM267.2 406.0h3.2v4.0h-3.2zM273.6 406.0h3.2v4.0h-3.2zM264.0 410.0h3.2v4.0h-3.2zM264.0 414.0h3.2v4.0h-3.2zM270.4 414.0h3.2v4.0h-3.2zM270.4 418.0h3.2v4.0h-3.2zM270.4 422.0h3.2v4.0h-3.2z" fill="#fff"/>
<path d="M200.0 183.0h3.2v4.0h-3.2zM209.6 183.0h3.2v4.0h-3.2zM212.8 183.0h3.2v4.0h-3.2zM219.2 183.0h3.2v4.0h-3.2zM225.6 183.0h3.2v4.0h-3.2zM228.8 183.0h3.2v4.0h-3.2zM232.0 183.0h3.2v4.0h-3.2zM235.2 183.0h3.2v4.0h-3.2zM238.4 183.0h3.2v4.0h-3.2zM248.0 183.0h3.2v4.0h-3.2zM200.0 187.0h3.2v4.0h-3.2zM219.2 187.0h3.2v4.0h-3.2zM222.4 187.0h3.2v4.0h-3.2zM200.0 191.0h3.2v4.0h-3.2zM222.4 191.0h3.2v4.0h-3.2zM228.8 191.0h3.2v4.0h-3.2zM235.2 191.0h3.2v4.0h-3.2zM241.6 191.0h3.2v4.0h-3.2zM244.8 191.0h3.2v4.0h-3.2zM212.8 195.0h3.2v4.0h-3.2zM219.2 195.0h3.2v4.0h-3.2zM248.0 195.0h3.2v4.0h-3.2z" fill="#fff"/>
<path d="M325.2 160.0h3.2v4.0h-3.2zM328.4 160.0h3.2v4.0h-3.2zM341.2 160.0h3.2v4.0h-3.2zM350.8 160.0h3.2v4.0h-3.2zM322.0 164.0h3.2v4.0h-3.2zM341.2 164.0h3.2v4.0h-3.2zM357.2 164.0h3.2v4.0h-3.2zM354.0 168.0h3.2v4.0h-3.2zM322.0 172.0h3.2v4.0h-3.2zM322.0 176.0h3.2v4.0h-3.2zM341.2 176.0h3.2v4.0h-3.2zM350.8 176.0h3.2v4.0h-3.2zM325.2 180.0h3.2v4.0h-3.2zM334.8 180.0h3.2v4.0h-3.2zM366.8 180.0h3.2v4.0h-3.2zM325.2 184.0h3.2v4.0h-3.2zM328.4 184.0h3.2v4.0h-3.2zM334.8 184.0h3.2v4.0h-3.2zM354.0 184.0h3.2v4.0h-3.2zM338.0 188.0h3.2v4.0h-3.2zM366.8 188.0h3.2v4.0h-3.2zM376.4 188.0h3.2v4.0h-3.2zM341.2 192.0h3.2v4.0h-3.2zM341.2 196.0h3.2v4.0h-3.2zM328.4 208.0h3.2v4.0h-3.2zM347.6 208.0h3.2v4.0h-3.2zM366.8 208.0h3.2v4.0h-3.2zM350.8 212.0h3.2v4.0h-3.2zM357.2 212.0h3.2v4.0h-3.2zM366.8 212.0h3.2v4.0h-3.2zM338.0 216.0h3.2v4.0h-3.2zM344.4 216.0h3.2v4.0h-3.2zM354.0 216.0h3.2v4.0h-3.2zM338.0 220.0h3.2v4.0h-3.2zM331.6 224.0h3.2v4.0h-3.2zM354.0 224.0h3.2v4.0h-3.2zM325.2 228.0h3.2v4.0h-3.2zM341.2 228.0h3.2v4.0h-3.2zM350.8 228.0h3.2v4.0h-3.2zM354.0 228.0h3.2v4.0h-3.2zM328.4 232.0h3.2v4.0h-3.2zM331.6 232.0h3.2v4.0h-3.2zM347.6 232.0h3.2v4.0h-3.2zM376.4 232.0h3.2v4.0h-3.2zM357.2 236.0h3.2v4.0h-3.2zM370.0 236.0h3.2v4.0h-3.2zM376.4 236.0h3.2v4.0h-3.2zM376.4 240.0h3.2v4.0h-3.2zM357.2 244.0h3.2v4.0h-3.2zM366.8 244.0h3.2v4.0h-3.2zM373.2 244.0h3.2v4.0h-3.2z" fill="#fff"/>
<path d="M1238.4 278.0h3.2v4.0h-3.2zM1241.6 278.0h3.2v4.0h-3.2zM1238.4 282.0h3.2v4.0h-3.2zM1244.8 286.0h3.2v4.0h-3.2zM1248.0 286.0h3.2v4.0h-3.2zM1238.4 290.0h3.2v4.0h-3.2zM1251.2 294.0h3.2v4.0h-3.2zM1254.4 298.0h3.2v4.0h-3.2zM1241.6 302.0h3.2v4.0h-3.2zM1244.8 302.0h3.2v4.0h-3.2zM1264.0 306.0h3.2v4.0h-3.2zM1244.8 310.0h3.2v4.0h-3.2zM1251.2 310.0h3.2v4.0h-3.2zM1254.4 310.0h3.2v4.0h-3.2zM1241.6 314.0h3.2v4.0h-3.2zM1244.8 314.0h3.2v4.0h-3.2zM1257.6 314.0h3.2v4.0h-3.2zM1241.6 318.0h3.2v4.0h-3.2zM1248.0 318.0h3.2v4.0h-3.2zM1254.4 318.0h3.2v4.0h-3.2zM1257.6 318.0h3.2v4.0h-3.2zM1260.8 322.0h3.2v4.0h-3.2z" fill="#fff"/>
<path d="M1349.2 255.8h3.2v4.0h-3.2zM1346.0 263.8h3.2v4.0h-3.2zM1349.2 263.8h3.2v4.0h-3.2zM1339.6 267.8h3.2v4.0h-3.2zM1339.6 279.8h3.2v4.0h-3.2zM1326.8 283.8h3.2v4.0h-3.2zM1336.4 283.8h3.2v4.0h-3.2zM1323.6 287.8h3.2v4.0h-3.2zM1320.4 291.8h3.2v4.0h-3.2zM1326.8 291.8h3.2v4.0h-3.2zM1317.2 295.8h3.2v4.0h-3.2zM1320.4 295.8h3.2v4.0h-3.2zM1323.6 295.8h3.2v4.0h-3.2zM1304.4 307.8h3.2v4.0h-3.2zM1307.6 311.8h3.2v4.0h-3.2zM1301.2 315.8h3.2v4.0h-3.2zM1291.6 319.8h3.2v4.0h-3.2zM1291.6 323.8h3.2v4.0h-3.2zM1294.8 327.8h3.2v4.0h-3.2zM1288.4 331.8h3.2v4.0h-3.2zM1294.8 331.8h3.2v4.0h-3.2zM1288.4 335.8h3.2v4.0h-3.2zM1275.6 339.8h3.2v4.0h-3.2zM1285.2 339.8h3.2v4.0h-3.2zM1275.6 347.8h3.2v4.0h-3.2zM1272.4 351.8h3.2v4.0h-3.2zM1259.6 355.8h3.2v4.0h-3.2zM1253.2 359.8h3.2v4.0h-3.2zM1253.2 363.8h3.2v4.0h-3.2zM1237.2 367.8h3.2v4.0h-3.2zM1240.4 367.8h3.2v4.0h-3.2zM1243.6 371.8h3.2v4.0h-3.2z" fill="#fff"/>
<path d="M1303.2 262.0h3.2v4.0h-3.2zM1306.4 262.0h3.2v4.0h-3.2zM1309.6 262.0h3.2v4.0h-3.2zM1319.2 262.0h3.2v4.0h-3.2zM1322.4 262.0h3.2v4.0h-3.2zM1328.8 262.0h3.2v4.0h-3.2zM1332.0 262.0h3.2v4.0h-3.2zM1338.4 262.0h3.2v4.0h-3.2zM1344.8 262.0h3.2v4.0h-3.2zM1357.6 262.0h3.2v4.0h-3.2zM1306.4 266.0h3.2v4.0h-3.2zM1309.6 266.0h3.2v4.0h-3.2zM1319.2 266.0h3.2v4.0h-3.2zM1325.6 266.0h3.2v4.0h-3.2zM1335.2 266.0h3.2v4.0h-3.2zM1338.4 266.0h3.2v4.0h-3.2zM1341.6 266.0h3.2v4.0h-3.2zM1344.8 266.0h3.2v4.0h-3.2zM1306.4 270.0h3.2v4.0h-3.2zM1316.0 270.0h3.2v4.0h-3.2zM1322.4 270.0h3.2v4.0h-3.2zM1325.6 270.0h3.2v4.0h-3.2zM1348.0 270.0h3.2v4.0h-3.2zM1309.6 274.0h3.2v4.0h-3.2zM1322.4 274.0h3.2v4.0h-3.2zM1328.8 274.0h3.2v4.0h-3.2zM1338.4 274.0h3.2v4.0h-3.2zM1348.0 274.0h3.2v4.0h-3.2zM1351.2 274.0h3.2v4.0h-3.2zM1354.4 274.0h3.2v4.0h-3.2zM1309.6 278.0h3.2v4.0h-3.2zM1312.8 278.0h3.2v4.0h-3.2zM1316.0 278.0h3.2v4.0h-3.2zM1325.6 278.0h3.2v4.0h-3.2zM1348.0 278.0h3.2v4.0h-3.2zM1357.6 278.0h3.2v4.0h-3.2zM1306.4 282.0h3.2v4.0h-3.2zM1309.6 282.0h3.2v4.0h-3.2zM1319.2 282.0h3.2v4.0h-3.2zM1322.4 282.0h3.2v4.0h-3.2zM1338.4 282.0h3.2v4.0h-3.2zM1348.0 282.0h3.2v4.0h-3.2zM1303.2 286.0h3.2v4.0h-3.2zM1312.8 286.0h3.2v4.0h-3.2zM1351.2 286.0h3.2v4.0h-3.2z" fill="#fff"/>
</g>
<rect x="381.6" y="133.0" width="3.6" height="3.6" fill="#000096"/>
<rect x="389.4" y="148.7" width="3.6" height="3.6" fill="#000096"/>
<rect x="405.9" y="143.2" width="3.6" height="3.6" fill="#000096"/>
<rect x="409.0" y="151.0" width="3.6" height="3.6" fill="#000096"/>
<rect x="405.9" y="162.7" width="3.6" height="3.6" fill="#000096"/>
<rect x="393.4" y="176.0" width="3.6" height="3.6" fill="#000096"/>
<rect x="381.6" y="186.9" width="3.6" height="3.6" fill="#000096"/>
<rect x="376.9" y="222.9" width="3.6" height="3.6" fill="#000096"/>
<rect x="377.7" y="234.6" width="3.6" height="3.6" fill="#000096"/>
<rect x="381.6" y="203.2" width="3.6" height="3.6" fill="#000096"/>
<rect x="373.8" y="208.8" width="3.6" height="3.6" fill="#000096"/>
<rect x="378.2" y="233.2" width="3.6" height="3.6" fill="#000096"/>
<rect x="373.2" y="223.2" width="3.6" height="3.6" fill="#000096"/>
<rect x="360.7" y="270.7" width="3.6" height="3.6" fill="#000096"/>
<rect x="355.2" y="290.7" width="3.6" height="3.6" fill="#000096"/>
<rect x="388.2" y="300.7" width="3.6" height="3.6" fill="#000096"/>
<rect x="370.7" y="310.7" width="3.6" height="3.6" fill="#000096"/>
<rect x="393.2" y="175.7" width="3.6" height="3.6" fill="#000096"/>
<rect x="394.2" y="177.2" width="3.6" height="3.6" fill="#000096"/>
<rect x="385.7" y="153.2" width="3.6" height="3.6" fill="#000096"/>
<rect x="368.2" y="298.2" width="3.6" height="3.6" fill="#000096"/>
<rect x="364.2" y="283.2" width="3.6" height="3.6" fill="#000096"/>
<rect x="376.2" y="316.2" width="3.6" height="3.6" fill="#000096"/>
<rect x="399.2" y="316.2" width="3.6" height="3.6" fill="#000096"/>
<rect x="418.2" y="336.2" width="3.6" height="3.6" fill="#000096"/>
<rect x="423.2" y="340.2" width="3.6" height="3.6" fill="#000096"/>
<polygon points="482.0,396.0 486.0,394.0 489.0,410.0 491.0,420.0 493.5,420.3 496.0,420.0 500.0,405.0 502.8,407.6 505.7,400.6 508.5,397.0 511.3,405.8 514.1,399.7 516.9,398.1 519.6,401.5 522.4,399.2 525.2,401.4 528.0,398.5 531.0,400.3 534.0,403.8 537.0,405.3 540.0,402.0 543.0,403.5 546.0,403.8 549.0,404.0 552.0,413.1 555.0,405.2 558.0,401.7 561.0,398.5 563.8,401.8 566.6,405.8 569.4,400.1 572.2,404.2 575.0,400.0 577.9,402.3 580.8,406.3 583.6,401.2 586.5,398.5 589.2,403.7 592.0,402.0 595.0,403.3 598.0,403.0 600.7,403.5 603.3,403.0 606.0,400.0 608.5,379.0 611.0,398.0 614.5,409.9 618.0,403.0 621.0,404.2 624.0,401.0 626.0,389.0 628.0,400.0 631.0,401.4 634.0,402.0 637.0,399.3 640.0,391.0 643.0,402.0 646.5,410.3 650.0,404.0 653.0,398.9 656.0,386.0 659.0,400.0 662.0,406.1 665.0,403.8 668.0,404.0 670.7,406.3 673.3,406.3 676.0,402.0 678.7,402.6 681.3,405.5 684.0,402.0 686.5,382.0 689.0,402.0 691.7,407.5 694.3,406.8 697.0,404.0 699.5,413.4 702.0,405.1 704.5,405.1 707.0,396.0 709.5,405.2 712.0,404.0 714.7,407.3 717.3,404.1 720.0,402.0 722.5,379.0 725.0,397.0 728.5,401.9 732.0,402.0 734.7,404.0 737.3,399.6 740.0,396.0 742.5,393.9 745.0,391.0 747.7,397.7 750.3,393.3 753.0,391.0 757.0,397.0 759.7,402.3 762.3,404.8 765.0,405.0 768.5,409.2 772.0,404.0 775.0,404.0 777.0,398.0 779.0,404.0 780.0,400.0 783.0,407.3 786.0,417.8 789.0,417.0 791.8,423.8 794.5,425.9 797.2,419.5 800.0,420.0 803.2,420.3 806.3,411.1 809.5,406.4 812.6,417.8 815.8,415.8 818.5,418.4 821.2,420.4 824.0,424.4 826.7,420.4 829.2,426.2 831.8,422.0 834.4,426.5 836.9,425.2 839.5,424.7 842.0,425.0 845.2,419.0 848.4,405.0 850.9,411.8 853.5,414.0 856.0,417.0 858.5,432.9 861.0,431.0 864.0,440.5 867.0,431.8 870.0,432.0 873.0,425.0 875.6,438.6 878.1,435.0 880.7,435.5 883.2,439.3 885.8,442.0 888.9,443.4 891.9,446.4 895.0,439.0 899.8,406.4 902.9,415.1 906.0,415.8 909.0,439.0 911.8,447.0 914.5,440.7 917.2,443.9 920.0,439.0 923.0,426.7 926.0,441.8 929.0,445.0 932.2,450.7 935.5,451.5 938.0,450.3 940.5,449.1 943.0,441.6 945.5,436.5 948.0,429.8 950.7,437.4 953.4,441.7 956.1,440.0 958.8,439.0 961.9,439.6 965.0,431.0 967.6,437.2 970.2,446.4 972.8,447.0 975.4,449.2 978.0,448.2 980.6,448.4 983.7,448.2 986.8,444.3 989.9,442.5 993.0,439.0 996.0,452.7 999.0,456.1 1002.0,457.8 1005.3,452.8 1008.6,437.5 1013.0,442.0 1015.5,449.8 1018.0,450.0 1018.0,476.4 1015.5,476.7 1013.0,470.7 1010.5,478.7 1008.0,477.9 1005.5,481.0 1002.9,475.8 1000.3,471.3 997.7,467.0 995.1,463.0 992.6,467.8 990.0,473.0 987.3,472.7 984.7,471.8 982.0,476.4 979.5,472.3 976.9,476.7 974.4,481.0 971.5,476.9 968.6,471.8 965.7,466.4 962.8,465.1 959.9,460.2 957.0,457.8 954.0,452.8 951.0,459.6 948.0,462.2 945.0,464.0 941.8,463.3 938.7,472.5 935.5,478.0 932.2,472.1 929.0,467.0 926.0,466.2 923.0,462.6 920.0,462.7 917.0,465.5 914.1,461.8 911.2,455.8 908.4,455.3 905.5,451.5 902.6,448.1 899.8,445.3 896.9,441.8 894.0,443.4 891.2,449.9 888.3,449.9 885.5,452.7 882.6,454.6 879.4,448.3 876.2,449.0 873.0,451.5 870.5,451.8 867.9,451.7 865.4,446.8 862.9,453.1 860.3,452.9 857.8,456.0 855.1,444.2 852.4,438.1 849.7,434.9 847.0,428.0 844.5,430.3 842.0,434.2 839.4,434.8 836.9,440.4 834.4,448.4 831.9,435.3 829.3,445.6 826.8,443.2 824.2,438.8 821.6,443.6 819.1,443.0 816.5,437.0 814.0,445.3 811.4,439.8 808.7,443.7 806.1,443.2 803.4,446.8 800.8,445.0 798.1,449.0 795.5,450.0 792.9,444.0 790.3,443.0 787.8,439.9 785.2,429.8 782.6,430.0 780.0,433.0 777.4,424.5 774.9,431.7 772.3,429.7 769.7,428.3 767.1,429.5 764.6,426.5 762.0,431.5 759.4,425.4 756.8,429.0 754.2,425.4 751.7,424.2 749.1,424.5 746.5,418.3 743.9,430.3 741.3,430.0 738.8,430.2 736.2,425.4 733.6,425.4 731.0,430.0 728.4,423.9 725.8,428.8 723.2,431.3 720.7,431.0 718.1,428.1 715.5,433.0 712.9,431.2 710.3,428.7 707.8,427.2 705.2,431.7 702.6,433.9 700.0,434.6 697.4,434.0 694.8,426.6 692.2,422.9 689.7,432.5 687.1,428.5 684.5,427.2 681.9,420.9 679.3,429.5 676.8,427.1 674.2,420.6 671.6,430.3 669.0,430.0 666.2,428.6 663.5,429.1 660.8,430.7 658.0,430.1 655.2,434.7 652.5,434.8 649.8,434.2 647.0,437.8 644.5,437.0 641.9,436.5 639.4,435.8 636.8,434.9 634.2,434.8 631.7,427.6 629.1,430.5 626.6,432.7 624.0,427.8 621.5,432.0 619.0,430.0 616.5,428.0 614.0,425.8 611.5,426.3 609.0,423.1 606.5,425.6 604.0,427.0 601.5,427.0 599.0,426.9 596.5,423.7 594.0,427.3 591.5,434.1 589.0,432.7 586.5,437.0 583.6,435.0 580.8,429.4 577.9,433.8 575.0,434.6 572.4,431.1 569.8,434.2 567.2,429.7 564.6,425.8 562.0,432.3 559.4,429.5 556.8,432.8 554.2,434.2 551.6,434.6 549.0,431.5 546.4,425.9 543.7,437.0 541.1,434.6 538.5,435.4 535.9,435.6 533.2,437.1 530.6,441.6 527.7,436.6 524.8,438.6 521.9,441.6 519.0,441.6 516.5,440.2 514.0,443.9 511.5,440.6 509.0,440.7 506.5,446.4 504.0,447.1 501.5,449.1 499.0,451.0 496.2,448.0 493.3,448.3 490.5,450.6 487.7,448.4 484.8,444.2 482.0,452.0" fill="#ff0000"/>
<polyline points="182.0,747.4 183.5,747.2 185.0,747.9 186.6,747.4 188.1,747.3 189.6,747.1 191.1,747.7 192.7,747.3 194.2,746.8 195.7,746.8 197.2,747.5 198.8,747.4 200.3,746.9 201.8,746.8 203.3,746.4 204.9,746.3 206.4,745.9 207.9,744.8 209.4,744.7 211.0,744.1 212.5,744.0 214.0,743.5 215.6,742.0 217.1,741.9 218.6,740.4 220.2,740.4 221.7,739.7 223.2,738.1 224.8,737.8 226.3,737.0 227.9,734.9 229.6,732.6 231.2,731.9 232.8,728.6 234.4,728.1 236.1,725.7 237.7,723.4 239.2,723.7 240.8,720.7 242.3,720.6 243.8,718.9 245.4,717.3 246.9,716.5 248.6,713.3 250.4,708.5 252.1,704.1 253.8,700.5 255.3,697.2 256.9,692.6 258.4,691.1 259.9,688.2 261.5,682.2 263.0,680.0 264.5,673.1 266.0,665.7 267.5,659.0 269.2,644.8 271.0,631.7 272.7,620.9 274.4,608.8 276.7,585.8 279.0,563.0 280.0,540.0" fill="none" stroke="#ff0000" stroke-width="4.3" stroke-linejoin="round"/>
<polyline points="280.0,540.0 281.5,484.3 283.0,420.0 284.5,390.8 286.0,360.0 287.5,329.2 289.0,300.0 291.0,280.0 292.5,309.3 294.0,330.0 295.5,354.1 297.0,380.0 298.5,391.2 300.0,406.0 301.5,389.0 303.0,375.0 305.0,366.0 306.5,385.3 308.0,400.0 310.0,424.0 311.5,392.1 313.0,360.0 314.5,341.4 316.0,322.0 318.0,380.0 320.0,424.4 322.0,472.0 324.0,401.9 326.0,330.0 327.7,283.4 329.4,237.0 332.0,280.0 333.5,334.4 335.0,380.0 337.0,434.9 339.0,490.0 341.0,470.0 343.0,380.0 344.8,343.9 346.6,313.0 348.3,360.7 350.0,400.0 351.5,414.4 353.0,427.4 354.5,442.4 356.0,455.0 357.8,446.3 359.5,432.1 361.2,428.6 363.0,420.0 364.5,416.4 366.0,408.8 367.5,397.8 369.0,393.0 370.7,415.2 372.3,440.2 374.0,462.0 375.8,451.7 377.5,431.9 379.2,416.1 381.0,400.0 382.7,386.5 384.3,375.0 386.0,364.0 388.0,390.7 390.0,420.0 391.7,436.0 393.3,449.6 395.0,468.0 396.5,455.0 398.0,441.1 399.5,434.8 401.0,420.0 402.7,413.6 404.3,403.6 406.0,396.0 408.0,407.4 410.0,420.0 412.0,434.4 414.0,445.0 415.7,451.1 417.3,455.1 419.0,462.0 420.5,451.8 422.0,450.5 423.6,453.4 425.1,447.9 426.6,445.0 428.8,403.1 431.0,365.0 432.7,363.8 434.3,373.3 436.0,375.0 437.5,421.0 439.0,429.4 440.5,444.0 442.0,455.0 443.6,452.8 445.2,449.6 446.8,446.1 448.4,447.8 450.0,445.0 451.5,435.3 453.0,431.1 454.5,426.1 456.0,423.1 457.5,413.0 459.0,408.0 460.5,411.5 462.0,416.0 463.5,411.6 465.0,421.0 466.7,428.9 468.3,440.7 470.0,452.0 471.6,435.9 473.3,425.5 475.0,407.9 476.6,395.0 478.8,413.9 481.0,430.0" fill="none" stroke="#ff0000" stroke-width="6" stroke-linejoin="round"/>
<polyline points="1017.5,492.0 1019.0,491.4 1020.6,485.6 1022.1,484.3 1023.7,484.2 1025.2,480.2 1026.8,475.1 1028.3,467.9 1029.8,467.6 1031.4,466.2 1032.9,464.4 1034.5,461.2 1036.0,458.0 1037.6,460.6 1039.1,460.8 1040.7,467.6 1042.3,471.2 1043.9,471.4 1045.4,474.4 1047.0,477.0 1048.5,460.5 1050.0,440.0 1051.5,449.0 1053.0,461.0 1054.5,472.4 1056.0,478.2 1057.5,489.8 1059.0,500.0 1060.7,488.5 1062.3,478.2 1064.0,466.7 1065.7,462.8 1067.3,458.7 1069.0,443.0 1070.5,453.0 1072.0,468.5 1073.5,478.1 1075.0,485.3 1076.5,499.4 1078.0,508.0 1079.5,491.0 1081.0,470.8 1082.5,462.2 1084.0,443.3 1085.5,427.5 1087.0,412.0 1088.6,426.7 1090.1,440.2 1091.7,450.1 1093.3,464.2 1094.9,477.2 1096.4,487.1 1098.0,502.0 1099.5,496.4 1101.1,485.4 1102.6,480.3 1104.2,474.0 1105.7,464.0 1107.2,473.5 1108.7,473.2 1110.2,483.2 1111.7,492.0 1113.3,479.1 1115.0,465.7 1116.7,455.2 1118.3,443.1 1119.9,431.4 1121.6,419.0 1123.2,437.9 1124.9,446.0 1126.5,458.7 1128.2,469.8 1129.8,484.3 1131.5,498.0 1133.5,478.5 1135.4,461.6 1137.4,441.0 1139.1,447.8 1140.7,460.2 1142.3,467.9 1144.0,476.1 1145.7,492.0 1147.3,500.0 1148.8,478.6 1150.4,458.9 1151.9,441.2 1153.5,419.7 1155.0,395.0 1156.5,415.1 1158.0,436.4 1159.5,454.5 1161.0,476.0 1163.0,468.0" fill="none" stroke="#ff0000" stroke-width="5.5" stroke-linejoin="round"/>
<polyline points="1163.0,468.0 1165.0,389.0 1167.0,330.0 1168.5,318.0 1170.0,306.0 1171.5,285.5 1173.0,265.0 1175.0,202.0 1177.0,157.0 1179.0,152.0 1181.0,147.0 1183.3,157.0 1183.3,223.0 1184.0,280.0 1185.7,371.0 1188.0,455.0 1190.0,520.0 1192.0,550.0 1194.6,565.0 1196.7,587.0 1198.8,597.2 1200.8,608.0 1202.9,613.2 1205.0,622.5 1206.6,628.6 1208.1,632.9 1209.7,639.2 1211.2,643.0 1212.9,648.4 1214.6,647.9 1216.3,652.2 1217.9,654.7 1219.6,658.0 1221.3,661.6 1223.0,661.7 1224.6,666.2 1226.3,669.1 1228.0,668.0 1229.5,672.9 1231.0,675.0 1232.5,675.0 1234.0,676.7 1235.7,677.2 1237.4,675.8 1239.1,678.2 1240.8,676.3 1242.5,678.8 1244.1,676.0 1245.6,677.3 1247.2,675.4 1248.8,672.5 1250.3,675.2 1251.9,683.7 1253.4,683.5 1255.0,689.0 1256.7,688.3 1258.5,692.3 1260.2,693.1 1261.9,691.4 1263.7,693.2 1265.4,693.0 1267.1,692.7 1268.7,697.6 1270.4,697.6 1272.1,701.3 1273.8,701.7 1275.5,703.0 1277.2,705.2 1278.9,708.8 1280.6,710.8 1282.3,711.5 1284.0,714.0 1285.7,714.2 1287.4,718.7 1289.1,722.2 1290.8,723.5 1292.5,724.6 1294.2,724.5 1295.9,728.1 1297.6,730.0 1299.3,733.4 1301.0,733.0 1302.5,733.6 1304.1,734.3 1305.6,736.6 1307.2,735.0 1308.7,736.2 1310.2,736.7 1311.8,739.2 1313.3,739.0 1314.9,738.8 1316.4,740.4 1318.0,739.6 1319.5,741.8 1321.1,741.5 1322.7,741.0 1324.2,742.4 1325.8,742.3 1327.4,742.7 1329.0,742.7 1330.6,742.4 1332.2,743.7 1333.8,743.2 1335.4,743.1 1337.1,743.5 1338.7,743.6 1340.3,743.3 1341.9,744.4 1343.5,743.5 1345.1,744.6 1346.7,744.4 1348.3,743.9 1349.9,744.3 1351.5,745.6 1353.2,744.8 1354.8,745.6 1356.4,745.9 1358.0,746.6 1359.6,747.0 1361.2,746.5 1362.9,746.9 1364.5,746.9 1366.1,747.2 1367.7,747.3 1369.3,746.3 1370.9,747.3 1372.5,746.8 1374.2,748.3 1375.8,747.8 1377.4,747.1 1379.0,747.5" fill="none" stroke="#ff0000" stroke-width="4.5" stroke-linejoin="round"/>
<line x1="182.5" y1="101.5" x2="1379.5" y2="101.5" stroke="#000" stroke-width="3"/>
<line x1="1379.5" y1="101.5" x2="1379.5" y2="829.0" stroke="#000" stroke-width="3"/>
<line x1="182.5" y1="100.0" x2="182.5" y2="831.0" stroke="#6a6a6a" stroke-width="5"/>
<line x1="180.0" y1="829.0" x2="1381.0" y2="829.0" stroke="#585858" stroke-width="4.5"/>
<line x1="238.4" y1="829.0" x2="238.4" y2="822.0" stroke="#444" stroke-width="1.5"/>
<line x1="238.4" y1="101.5" x2="238.4" y2="108.5" stroke="#777" stroke-width="1.2"/>
<text x="238.4" y="867" text-anchor="middle" style="font-family:'Liberation Serif','DejaVu Serif',serif;font-size:38px"><tspan fill="#e8e8e8">−</tspan><tspan fill="#111">1.0</tspan></text>
<line x1="486.6" y1="829.0" x2="486.6" y2="822.0" stroke="#444" stroke-width="1.5"/>
<line x1="486.6" y1="101.5" x2="486.6" y2="108.5" stroke="#777" stroke-width="1.2"/>
<text x="486.6" y="867" text-anchor="middle" style="font-family:'Liberation Serif','DejaVu Serif',serif;font-size:38px"><tspan fill="#e8e8e8">−</tspan><tspan fill="#111">0.5</tspan></text>
<line x1="734.8" y1="829.0" x2="734.8" y2="822.0" stroke="#444" stroke-width="1.5"/>
<line x1="734.8" y1="101.5" x2="734.8" y2="108.5" stroke="#777" stroke-width="1.2"/>
<text x="734.8" y="867" text-anchor="middle" fill="#111" style="font-family:'Liberation Serif','DejaVu Serif',serif;font-size:38px">0.0</text>
<line x1="983.0" y1="829.0" x2="983.0" y2="822.0" stroke="#444" stroke-width="1.5"/>
<line x1="983.0" y1="101.5" x2="983.0" y2="108.5" stroke="#777" stroke-width="1.2"/>
<text x="983.0" y="867" text-anchor="middle" fill="#111" style="font-family:'Liberation Serif','DejaVu Serif',serif;font-size:38px">0.5</text>
<line x1="1231.2" y1="829.0" x2="1231.2" y2="822.0" stroke="#444" stroke-width="1.5"/>
<line x1="1231.2" y1="101.5" x2="1231.2" y2="108.5" stroke="#777" stroke-width="1.2"/>
<text x="1231.2" y="867" text-anchor="middle" fill="#111" style="font-family:'Liberation Serif','DejaVu Serif',serif;font-size:38px">1.0</text>
<line x1="182.5" y1="115.2" x2="188.5" y2="115.2" stroke="#777" stroke-width="1.2"/>
<text x="173.5" y="125.2" text-anchor="end" fill="#111" style="font-family:'Liberation Serif','DejaVu Serif',serif;font-size:38px">2.995</text>
<line x1="182.5" y1="278.4" x2="188.5" y2="278.4" stroke="#777" stroke-width="1.2"/>
<text x="173.5" y="288.4" text-anchor="end" fill="#111" style="font-family:'Liberation Serif','DejaVu Serif',serif;font-size:38px">2.990</text>
<line x1="182.5" y1="441.6" x2="188.5" y2="441.6" stroke="#777" stroke-width="1.2"/>
<text x="173.5" y="451.6" text-anchor="end" fill="#111" style="font-family:'Liberation Serif','DejaVu Serif',serif;font-size:38px">2.985</text>
<line x1="182.5" y1="604.8" x2="188.5" y2="604.8" stroke="#777" stroke-width="1.2"/>
<text x="173.5" y="614.8" text-anchor="end" fill="#111" style="font-family:'Liberation Serif','DejaVu Serif',serif;font-size:38px">2.980</text>
<line x1="182.5" y1="768.0" x2="188.5" y2="768.0" stroke="#777" stroke-width="1.2"/>
<text x="173.5" y="778.0" text-anchor="end" fill="#111" style="font-family:'Liberation Serif','DejaVu Serif',serif;font-size:38px">2.975</text>
<line x1="1379.5" y1="99.3" x2="1372.5" y2="99.3" stroke="#888" stroke-width="1.2"/>
<text x="1391" y="109.3" fill="#111" style="font-family:'Liberation Serif','DejaVu Serif',serif;font-size:38px">1.6</text>
<line x1="1379.5" y1="180.3" x2="1372.5" y2="180.3" stroke="#888" stroke-width="1.2"/>
<text x="1391" y="190.3" fill="#111" style="font-family:'Liberation Serif','DejaVu Serif',serif;font-size:38px">1.4</text>
<line x1="1379.5" y1="261.3" x2="1372.5" y2="261.3" stroke="#888" stroke-width="1.2"/>
<text x="1391" y="271.3" fill="#111" style="font-family:'Liberation Serif','DejaVu Serif',serif;font-size:38px">1.2</text>
<line x1="1379.5" y1="342.3" x2="1372.5" y2="342.3" stroke="#888" stroke-width="1.2"/>
<text x="1391" y="352.3" fill="#111" style="font-family:'Liberation Serif','DejaVu Serif',serif;font-size:38px">1.0</text>
<line x1="1379.5" y1="423.3" x2="1372.5" y2="423.3" stroke="#888" stroke-width="1.2"/>
<text x="1391" y="433.3" fill="#111" style="font-family:'Liberation Serif','DejaVu Serif',serif;font-size:38px">0.8</text>
<line x1="1379.5" y1="504.3" x2="1372.5" y2="504.3" stroke="#888" stroke-width="1.2"/>
<text x="1391" y="514.3" fill="#111" style="font-family:'Liberation Serif','DejaVu Serif',serif;font-size:38px">0.6</text>
<line x1="1379.5" y1="585.3" x2="1372.5" y2="585.3" stroke="#888" stroke-width="1.2"/>
<text x="1391" y="595.3" fill="#111" style="font-family:'Liberation Serif','DejaVu Serif',serif;font-size:38px">0.4</text>
<line x1="1379.5" y1="666.3" x2="1372.5" y2="666.3" stroke="#888" stroke-width="1.2"/>
<text x="1391" y="676.3" fill="#111" style="font-family:'Liberation Serif','DejaVu Serif',serif;font-size:38px">0.2</text>
<line x1="1379.5" y1="747.3" x2="1372.5" y2="747.3" stroke="#888" stroke-width="1.2"/>
<text x="1391" y="757.3" fill="#111" style="font-family:'Liberation Serif','DejaVu Serif',serif;font-size:38px">0.0</text>
<line x1="1379.5" y1="828.3" x2="1372.5" y2="828.3" stroke="#888" stroke-width="1.2"/>
<text x="1391" y="838.3" fill="#111" style="font-family:'Liberation Serif','DejaVu Serif',serif;font-size:38px"><tspan fill="#777">−</tspan>0.2</text>
<text x="182" y="91" fill="#111" style="font-family:'Liberation Serif','DejaVu Serif',serif;font-size:38px">×10<tspan dx="2" dy="-22" style="font-size:27px">3</tspan></text>
<text x="1301" y="918.5" fill="#111" style="font-family:'Liberation Serif','DejaVu Serif',serif;font-size:38px">×10<tspan dx="3" dy="-25" style="font-size:27px">2</tspan></text>
<text x="322" y="83.5" fill="#000" style="font-family:'Liberation Serif','DejaVu Serif',serif;font-size:44.8px;font-weight:bold;font-style:italic">Longitudinal Phase Space after Beam Switchyard</text>
<text x="714" y="918.5" fill="#000" style="font-family:'Liberation Serif','DejaVu Serif',serif;font-size:53.5px"><tspan font-style="italic">z</tspan> (<tspan font-style="italic">μm</tspan>)</text>
<text transform="translate(67,477) rotate(-90)" fill="#000" style="font-family:'Liberation Serif','DejaVu Serif',serif;font-size:54px;font-style:italic">γ</text>
<text transform="translate(1500,543) rotate(-90)" fill="#000" style="font-family:'Liberation Serif','DejaVu Serif',serif;font-size:52px"><tspan font-style="italic">I</tspan><tspan font-style="italic" dy="10" style="font-size:36px">pk</tspan><tspan dy="-10"> (</tspan><tspan font-style="italic">kA</tspan>)</text>
</svg>
</body></html>
